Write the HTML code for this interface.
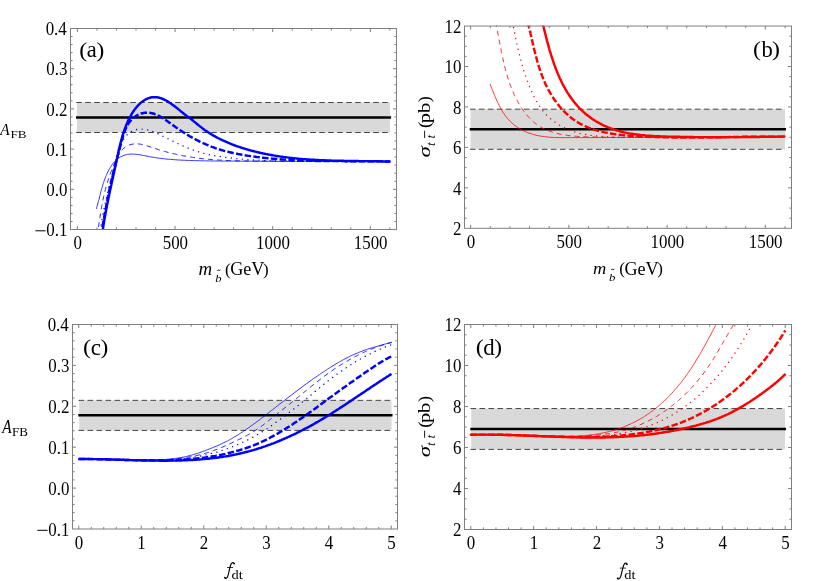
<!DOCTYPE html>
<html><head><meta charset="utf-8"><title>fig</title>
<style>
html,body{margin:0;padding:0;background:#fff;}
svg{display:block;will-change:transform;}
text{font-family:"Liberation Serif",serif;fill:#000;}
.tk{font-size:19.0px;}
.lb{font-size:17px;}
.pl{font-size:20.5px;}
.it{font-style:italic;}
</style></head><body>
<svg width="817" height="581" viewBox="0 0 817 581">
<rect width="817" height="581" fill="#fff"/>
<clipPath id="cpa"><rect x="70.0" y="28.0" width="327.0" height="202.0"/></clipPath>
<rect x="76.90" y="102.50" width="313.18" height="30.00" fill="#d9d9d9"/>
<line x1="76.20" x2="390.08" y1="132.50" y2="132.50" stroke="#454545" stroke-width="1" stroke-dasharray="5.6 3.4"/>
<line x1="76.20" x2="390.08" y1="102.50" y2="102.50" stroke="#454545" stroke-width="1" stroke-dasharray="5.6 3.4"/>
<line x1="76.00" x2="391.08" y1="117.50" y2="117.50" stroke="#000" stroke-width="2.5"/>
<g clip-path="url(#cpa)">
<path d="M96.3 208.9L96.7 207.7L97.0 206.5L97.4 205.2L97.7 204.0L98.0 202.8L98.3 201.6L98.7 200.4L99.0 199.2L99.3 198.0L99.6 196.8L99.9 195.6L100.2 194.4L100.5 193.2L100.8 192.0L101.1 190.8L101.5 189.6L101.8 188.4L102.1 187.2L102.5 186.1L102.9 184.9L103.2 183.7L103.6 182.5L104.0 181.3L104.4 180.2L104.9 179.0L105.3 177.8L105.8 176.6L106.3 175.5L106.8 174.3L107.3 173.1L107.8 172.0L108.4 170.8L109.0 169.7L109.6 168.6L110.3 167.5L111.0 166.4L111.7 165.3L112.4 164.3L113.2 163.3L114.0 162.3L114.9 161.4L115.8 160.5L116.7 159.7L117.6 158.9L118.6 158.1L119.6 157.4L120.7 156.8L121.8 156.3L122.9 155.8L124.0 155.3L125.1 155.0L126.3 154.7L127.5 154.4L128.6 154.3L129.8 154.1L131.0 154.1L132.2 154.1L133.4 154.1L134.6 154.2L135.9 154.3L137.1 154.4L138.3 154.6L139.6 154.7L140.8 155.0L142.0 155.2L143.3 155.4L144.5 155.7L145.8 155.9L147.0 156.2L148.3 156.4L149.5 156.7L150.8 156.9L152.0 157.1L153.3 157.3L154.5 157.5L155.8 157.7L157.0 157.9L158.3 158.1L159.5 158.2L160.8 158.4L162.0 158.6L163.3 158.7L164.5 158.8L165.8 159.0L167.0 159.1L168.3 159.2L169.5 159.3L170.8 159.4L172.0 159.5L173.3 159.6L174.5 159.7L175.8 159.8L177.0 159.9L178.3 160.0L179.5 160.0L180.8 160.1L182.0 160.2L183.3 160.2L184.5 160.3L185.8 160.3L187.0 160.4L188.2 160.4L189.5 160.5L190.7 160.5L192.0 160.5L193.2 160.6L194.5 160.6L195.7 160.7L197.0 160.7L198.2 160.7L199.5 160.7L200.7 160.8L202.0 160.8L203.2 160.8L204.5 160.8L205.7 160.9L207.0 160.9L208.2 160.9L209.5 160.9L210.7 160.9L212.0 161.0L213.2 161.0L214.5 161.0L215.7 161.0L216.9 161.0L218.2 161.0L219.4 161.0L220.7 161.0L221.9 161.1L223.2 161.1L224.4 161.1L225.7 161.1L226.9 161.1L228.2 161.1L229.4 161.1L230.7 161.1L231.9 161.1L233.2 161.1L234.4 161.1L235.7 161.2L236.9 161.2L238.1 161.2L239.4 161.2L240.6 161.2L241.9 161.2L243.1 161.2L244.4 161.2L245.6 161.2L246.9 161.2L248.1 161.2L249.4 161.2L250.6 161.2L251.9 161.2L253.1 161.3L254.4 161.3L255.6 161.3L256.8 161.3L258.1 161.3L259.3 161.3L260.6 161.3L261.8 161.3L263.1 161.3L264.3 161.3L265.6 161.3L266.8 161.3L268.1 161.3L269.3 161.3L270.6 161.3L271.8 161.3L273.1 161.3L274.3 161.3L275.6 161.4L276.8 161.4L278.0 161.4L279.3 161.4L280.5 161.4L281.8 161.4L283.0 161.4L284.3 161.4L285.5 161.4L286.8 161.4L288.0 161.4L289.3 161.4L290.5 161.4L291.8 161.4L293.0 161.4L294.3 161.4L295.5 161.4L296.8 161.4L298.0 161.4L299.2 161.4L300.5 161.4L301.7 161.4L303.0 161.4L304.2 161.4L305.5 161.4L306.7 161.4L308.0 161.4L309.2 161.4L310.5 161.4L311.7 161.4L313.0 161.5L314.2 161.5L315.5 161.5L316.7 161.5L318.0 161.5L319.2 161.5L320.5 161.5L321.7 161.5L323.0 161.5L324.2 161.5L325.4 161.5L326.7 161.5L327.9 161.5L329.2 161.5L330.4 161.5L331.7 161.5L332.9 161.5L334.2 161.5L335.4 161.5L336.7 161.5L337.9 161.5L339.2 161.5L340.4 161.5L341.7 161.5L342.9 161.5L344.2 161.5L345.4 161.5L346.7 161.5L347.9 161.5L349.2 161.5L350.4 161.5L351.7 161.5L352.9 161.5L354.2 161.5L355.4 161.5L356.7 161.5L357.9 161.5L359.2 161.5L360.4 161.5L361.7 161.5L362.9 161.5L364.2 161.5L365.4 161.5L366.7 161.5L367.9 161.5L369.2 161.5L370.4 161.5L371.7 161.5L372.9 161.5L374.2 161.5L375.4 161.5L376.7 161.5L377.9 161.5L379.2 161.5L380.4 161.5L381.7 161.5L382.9 161.5L384.2 161.5L385.4 161.5L386.7 161.5L387.9 161.5L389.2 161.5L390.4 161.5" fill="none" stroke="#0000ff" stroke-width="0.8" stroke-linejoin="round"/>
<path d="M97.0 236.0L97.2 234.8L97.4 233.5L97.6 232.3L97.8 231.0L98.0 229.8L98.2 228.5L98.4 227.3L98.6 226.1L98.8 224.8L99.0 223.6L99.1 222.4L99.3 221.1L99.5 219.9L99.7 218.7L99.9 217.5L100.1 216.2L100.3 215.0L100.5 213.8L100.7 212.6L100.9 211.4L101.1 210.1L101.3 208.9L101.5 207.7L101.7 206.5L101.9 205.3L102.1 204.1L102.4 202.9L102.6 201.7L102.9 200.4L103.1 199.2L103.4 198.0L103.6 196.8L103.9 195.6L104.2 194.4L104.5 193.2L104.8 192.0L105.1 190.8L105.4 189.6L105.7 188.3L106.0 187.1L106.4 185.9L106.7 184.7L107.1 183.5L107.4 182.3L107.8 181.1L108.2 179.9L108.6 178.7L109.0 177.5L109.4 176.3L109.8 175.1L110.2 173.9L110.7 172.7L111.1 171.6L111.5 170.4L112.0 169.2L112.5 168.0L112.9 166.9L113.4 165.7L113.9 164.5L114.4 163.4L114.9 162.2L115.4 161.1L116.0 159.9L116.5 158.8L117.1 157.7L117.6 156.5L118.2 155.5L118.8 154.4L119.5 153.3L120.2 152.3L120.9 151.3L121.7 150.4L122.5 149.5L123.3 148.6L124.3 147.9L125.3 147.1L126.3 146.5L127.4 145.9L128.6 145.3L129.7 144.9L130.9 144.5L132.1 144.2L133.3 144.0L134.4 143.9L135.6 143.8L136.8 143.8L138.0 143.9L139.2 144.0L140.4 144.2L141.6 144.4L142.8 144.7L144.0 145.0L145.2 145.3L146.4 145.6L147.6 146.0L148.8 146.4L150.0 146.8L151.2 147.2L152.4 147.6L153.6 148.0L154.8 148.4L156.0 148.8L157.2 149.2L158.4 149.6L159.6 150.0L160.8 150.3L162.0 150.7L163.2 151.1L164.5 151.4L165.7 151.7L166.9 152.1L168.1 152.4L169.3 152.7L170.5 153.0L171.7 153.3L173.0 153.6L174.2 153.9L175.4 154.1L176.6 154.4L177.8 154.7L179.0 154.9L180.3 155.2L181.5 155.4L182.7 155.7L183.9 155.9L185.2 156.1L186.4 156.3L187.6 156.5L188.8 156.8L190.1 157.0L191.3 157.1L192.5 157.3L193.7 157.5L195.0 157.7L196.2 157.9L197.4 158.0L198.7 158.2L199.9 158.3L201.1 158.5L202.3 158.6L203.6 158.8L204.8 158.9L206.0 159.0L207.3 159.1L208.5 159.3L209.7 159.4L211.0 159.5L212.2 159.6L213.4 159.7L214.7 159.8L215.9 159.9L217.2 159.9L218.4 160.0L219.6 160.1L220.9 160.2L222.1 160.2L223.3 160.3L224.6 160.3L225.8 160.4L227.1 160.5L228.3 160.5L229.5 160.6L230.8 160.6L232.0 160.6L233.3 160.7L234.5 160.7L235.8 160.7L237.0 160.8L238.2 160.8L239.5 160.8L240.7 160.8L242.0 160.9L243.2 160.9L244.5 160.9L245.7 160.9L247.0 160.9L248.2 160.9L249.4 160.9L250.7 160.9L251.9 160.9L253.2 161.0L254.4 161.0L255.7 161.0L256.9 161.0L258.2 161.0L259.4 161.0L260.7 161.0L261.9 161.0L263.2 161.0L264.4 161.0L265.7 161.0L266.9 161.0L268.2 161.0L269.4 161.0L270.7 161.0L271.9 161.0L273.2 161.0L274.4 161.0L275.7 161.0L276.9 161.0L278.2 161.0L279.4 161.0L280.7 161.0L281.9 161.0L283.2 161.0L284.4 161.1L285.7 161.1L286.9 161.1L288.2 161.1L289.4 161.1L290.7 161.1L291.9 161.1L293.2 161.1L294.4 161.1L295.7 161.1L296.9 161.1L298.2 161.2L299.4 161.2L300.7 161.2L301.9 161.2L303.2 161.2L304.4 161.2L305.7 161.2L306.9 161.2L308.2 161.3L309.4 161.3L310.7 161.3L311.9 161.3L313.2 161.3L314.4 161.3L315.7 161.3L316.9 161.3L318.2 161.4L319.4 161.4L320.7 161.4L321.9 161.4L323.2 161.4L324.4 161.4L325.7 161.4L326.9 161.4L328.2 161.5L329.4 161.5L330.7 161.5L331.9 161.5L333.2 161.5L334.4 161.5L335.7 161.5L336.9 161.5L338.2 161.5L339.4 161.5L340.7 161.6L341.9 161.6L343.2 161.6L344.4 161.6L345.7 161.6L346.9 161.6L348.2 161.6L349.4 161.6L350.7 161.6L351.9 161.6L353.1 161.6L354.4 161.6L355.6 161.6L356.9 161.6L358.1 161.6L359.4 161.6L360.6 161.6L361.9 161.6L363.1 161.6L364.3 161.6L365.6 161.6L366.8 161.6L368.1 161.6L369.3 161.6L370.5 161.6L371.8 161.6L373.0 161.6L374.3 161.6L375.5 161.6L376.7 161.6L378.0 161.6L379.2 161.6L380.5 161.6L381.7 161.6L382.9 161.6L384.2 161.5L385.4 161.5L386.6 161.5L387.9 161.5L389.1 161.5L390.3 161.5" fill="none" stroke="#0000ff" stroke-width="0.85" stroke-dasharray="5.0 4.0" stroke-linejoin="round"/>
<path d="M99.7 236.0L99.8 234.7L100.0 233.5L100.1 232.3L100.3 231.1L100.4 229.8L100.6 228.6L100.8 227.4L101.0 226.1L101.1 224.9L101.3 223.7L101.5 222.4L101.7 221.2L101.9 220.0L102.1 218.7L102.4 217.5L102.6 216.3L102.8 215.1L103.0 213.8L103.3 212.6L103.5 211.4L103.8 210.1L104.0 208.9L104.3 207.7L104.5 206.4L104.8 205.2L105.1 204.0L105.3 202.7L105.6 201.5L105.9 200.3L106.1 199.1L106.4 197.8L106.7 196.6L107.0 195.4L107.3 194.2L107.6 193.0L107.9 191.7L108.2 190.5L108.4 189.3L108.7 188.1L109.0 186.9L109.3 185.7L109.6 184.4L110.0 183.2L110.3 182.0L110.6 180.8L110.9 179.6L111.2 178.4L111.5 177.2L111.8 176.0L112.1 174.8L112.4 173.6L112.7 172.4L113.0 171.2L113.3 170.0L113.7 168.9L114.0 167.7L114.3 166.5L114.6 165.3L114.9 164.1L115.3 162.9L115.6 161.7L115.9 160.5L116.3 159.3L116.6 158.2L117.0 157.0L117.3 155.8L117.7 154.6L118.1 153.4L118.5 152.1L118.9 150.9L119.3 149.7L119.7 148.5L120.2 147.3L120.6 146.0L121.1 144.8L121.5 143.6L122.1 142.4L122.6 141.2L123.2 140.1L123.8 138.9L124.5 137.9L125.2 136.9L125.9 135.9L126.8 135.0L127.6 134.2L128.6 133.4L129.5 132.7L130.5 132.0L131.5 131.4L132.6 130.9L133.7 130.4L134.8 130.0L136.0 129.7L137.1 129.4L138.3 129.2L139.5 129.1L140.7 129.1L142.0 129.1L143.2 129.1L144.4 129.3L145.7 129.5L146.9 129.7L148.1 130.0L149.4 130.4L150.6 130.7L151.8 131.2L153.0 131.6L154.2 132.1L155.4 132.6L156.5 133.1L157.7 133.7L158.8 134.2L160.0 134.8L161.1 135.3L162.2 135.9L163.4 136.5L164.5 137.0L165.6 137.6L166.7 138.2L167.9 138.7L169.0 139.3L170.1 139.9L171.2 140.4L172.4 141.0L173.5 141.5L174.6 142.1L175.8 142.6L176.9 143.2L178.0 143.7L179.1 144.2L180.3 144.7L181.4 145.2L182.6 145.8L183.7 146.3L184.8 146.7L186.0 147.2L187.1 147.7L188.3 148.2L189.4 148.6L190.6 149.1L191.7 149.5L192.9 149.9L194.1 150.4L195.2 150.8L196.4 151.2L197.6 151.5L198.8 151.9L200.0 152.3L201.1 152.6L202.3 152.9L203.5 153.3L204.7 153.6L206.0 153.9L207.2 154.2L208.4 154.4L209.6 154.7L210.8 154.9L212.0 155.2L213.3 155.4L214.5 155.6L215.7 155.9L217.0 156.1L218.2 156.3L219.4 156.5L220.7 156.6L221.9 156.8L223.2 157.0L224.4 157.2L225.7 157.3L226.9 157.5L228.1 157.6L229.4 157.8L230.6 157.9L231.9 158.1L233.1 158.2L234.4 158.3L235.6 158.5L236.9 158.6L238.1 158.7L239.4 158.8L240.6 159.0L241.8 159.1L243.1 159.2L244.3 159.3L245.6 159.4L246.8 159.5L248.1 159.6L249.3 159.7L250.6 159.8L251.8 159.8L253.1 159.9L254.3 160.0L255.6 160.1L256.8 160.2L258.0 160.2L259.3 160.3L260.5 160.4L261.8 160.4L263.0 160.5L264.3 160.5L265.5 160.6L266.8 160.7L268.0 160.7L269.3 160.8L270.5 160.8L271.8 160.8L273.0 160.9L274.3 160.9L275.5 161.0L276.8 161.0L278.0 161.0L279.3 161.1L280.5 161.1L281.7 161.1L283.0 161.1L284.2 161.2L285.5 161.2L286.7 161.2L288.0 161.2L289.2 161.2L290.5 161.3L291.7 161.3L293.0 161.3L294.2 161.3L295.5 161.3L296.7 161.3L298.0 161.3L299.2 161.3L300.5 161.3L301.7 161.3L303.0 161.3L304.2 161.3L305.5 161.3L306.7 161.3L308.0 161.3L309.2 161.3L310.5 161.3L311.7 161.3L313.0 161.3L314.2 161.3L315.4 161.3L316.7 161.3L317.9 161.3L319.2 161.3L320.4 161.3L321.7 161.2L322.9 161.2L324.2 161.2L325.4 161.2L326.7 161.2L327.9 161.2L329.2 161.2L330.4 161.2L331.7 161.2L332.9 161.2L334.2 161.1L335.4 161.1L336.7 161.1L337.9 161.1L339.2 161.1L340.4 161.1L341.7 161.1L342.9 161.1L344.2 161.1L345.4 161.1L346.7 161.1L347.9 161.0L349.2 161.0L350.4 161.0L351.7 161.0L352.9 161.0L354.2 161.0L355.4 161.0L356.7 161.0L357.9 161.0L359.2 161.0L360.4 161.0L361.7 161.0L362.9 161.0L364.2 161.0L365.4 161.0L366.7 161.1L367.9 161.1L369.2 161.1L370.4 161.1L371.7 161.1L372.9 161.1L374.2 161.1L375.4 161.2L376.7 161.2L377.9 161.2L379.2 161.2L380.4 161.3L381.7 161.3L382.9 161.3L384.2 161.3L385.4 161.4L386.7 161.4L387.9 161.5L389.2 161.5L390.4 161.5" fill="none" stroke="#0000ff" stroke-width="1.4" stroke-dasharray="0.01 5.55" stroke-linecap="round" stroke-linejoin="round"/>
<path d="M100.9 235.9L101.1 234.7L101.3 233.5L101.5 232.3L101.7 231.1L102.0 229.9L102.2 228.7L102.4 227.4L102.6 226.2L102.8 225.0L103.0 223.7L103.2 222.5L103.4 221.3L103.6 220.1L103.9 218.8L104.1 217.6L104.3 216.4L104.5 215.1L104.7 213.9L105.0 212.6L105.2 211.4L105.4 210.2L105.6 208.9L105.9 207.7L106.1 206.4L106.3 205.2L106.6 204.0L106.8 202.7L107.0 201.5L107.3 200.2L107.5 199.0L107.7 197.8L108.0 196.5L108.2 195.3L108.5 194.1L108.7 192.8L109.0 191.6L109.3 190.4L109.5 189.2L109.8 187.9L110.0 186.7L110.3 185.5L110.6 184.3L110.8 183.1L111.1 181.8L111.4 180.6L111.7 179.4L112.0 178.2L112.3 177.0L112.5 175.8L112.8 174.6L113.1 173.4L113.4 172.2L113.7 171.0L114.0 169.8L114.4 168.7L114.7 167.5L115.0 166.3L115.3 165.1L115.6 163.9L115.9 162.7L116.2 161.5L116.6 160.3L116.9 159.1L117.2 157.9L117.5 156.7L117.9 155.5L118.2 154.3L118.5 153.1L118.8 151.9L119.2 150.7L119.5 149.5L119.8 148.2L120.1 147.0L120.4 145.8L120.8 144.5L121.1 143.3L121.4 142.0L121.7 140.8L122.1 139.5L122.4 138.3L122.8 137.0L123.2 135.8L123.5 134.6L123.9 133.3L124.4 132.1L124.8 130.9L125.3 129.8L125.8 128.6L126.3 127.5L126.8 126.4L127.4 125.3L128.1 124.2L128.7 123.2L129.5 122.1L130.2 121.2L131.0 120.2L131.9 119.3L132.8 118.4L133.8 117.6L134.7 116.9L135.8 116.1L136.8 115.5L137.9 114.9L139.0 114.4L140.1 113.9L141.2 113.5L142.4 113.2L143.6 113.0L144.7 112.8L145.9 112.7L147.1 112.7L148.3 112.7L149.5 112.8L150.7 113.0L151.9 113.2L153.1 113.5L154.3 113.8L155.4 114.3L156.6 114.7L157.7 115.2L158.8 115.8L159.9 116.4L161.0 117.0L162.1 117.7L163.2 118.4L164.3 119.1L165.3 119.8L166.4 120.6L167.5 121.3L168.5 122.1L169.6 122.8L170.6 123.6L171.6 124.3L172.7 125.0L173.7 125.8L174.8 126.5L175.8 127.2L176.8 127.9L177.8 128.6L178.9 129.3L179.9 130.0L180.9 130.7L182.0 131.4L183.0 132.1L184.1 132.7L185.1 133.4L186.1 134.1L187.2 134.7L188.3 135.4L189.3 136.0L190.4 136.6L191.5 137.2L192.6 137.8L193.7 138.4L194.8 139.0L195.9 139.6L197.0 140.2L198.1 140.7L199.2 141.3L200.3 141.9L201.4 142.4L202.6 142.9L203.7 143.4L204.9 143.9L206.0 144.4L207.2 144.9L208.3 145.4L209.5 145.9L210.6 146.3L211.8 146.8L213.0 147.2L214.2 147.6L215.3 148.1L216.5 148.5L217.7 148.9L218.9 149.2L220.1 149.6L221.3 150.0L222.5 150.3L223.7 150.7L224.9 151.0L226.1 151.3L227.3 151.6L228.5 151.9L229.7 152.2L231.0 152.5L232.2 152.8L233.4 153.1L234.6 153.3L235.8 153.6L237.1 153.8L238.3 154.1L239.5 154.3L240.8 154.5L242.0 154.7L243.2 154.9L244.5 155.2L245.7 155.4L246.9 155.6L248.2 155.8L249.4 155.9L250.6 156.1L251.9 156.3L253.1 156.5L254.4 156.6L255.6 156.8L256.8 157.0L258.1 157.1L259.3 157.3L260.5 157.4L261.8 157.6L263.0 157.7L264.3 157.9L265.5 158.0L266.8 158.1L268.0 158.3L269.2 158.4L270.5 158.5L271.7 158.6L273.0 158.7L274.2 158.8L275.5 158.9L276.7 159.0L277.9 159.1L279.2 159.2L280.4 159.3L281.7 159.4L282.9 159.5L284.2 159.6L285.4 159.7L286.7 159.7L287.9 159.8L289.2 159.9L290.4 160.0L291.7 160.0L292.9 160.1L294.2 160.2L295.4 160.2L296.6 160.3L297.9 160.3L299.1 160.4L300.4 160.4L301.6 160.5L302.9 160.5L304.1 160.6L305.4 160.6L306.6 160.6L307.9 160.7L309.1 160.7L310.4 160.8L311.6 160.8L312.9 160.8L314.1 160.8L315.4 160.9L316.6 160.9L317.9 160.9L319.1 160.9L320.4 161.0L321.6 161.0L322.9 161.0L324.1 161.0L325.4 161.0L326.6 161.0L327.9 161.1L329.2 161.1L330.4 161.1L331.7 161.1L332.9 161.1L334.2 161.1L335.4 161.1L336.7 161.1L337.9 161.1L339.2 161.1L340.4 161.1L341.7 161.1L342.9 161.1L344.2 161.1L345.4 161.2L346.7 161.2L347.9 161.2L349.2 161.2L350.4 161.2L351.7 161.2L352.9 161.2L354.2 161.2L355.4 161.2L356.7 161.2L357.9 161.2L359.2 161.2L360.4 161.2L361.7 161.2L362.9 161.2L364.2 161.2L365.4 161.2L366.7 161.2L367.9 161.2L369.2 161.2L370.4 161.2L371.7 161.2L372.9 161.3L374.2 161.3L375.4 161.3L376.7 161.3L377.9 161.3L379.2 161.3L380.4 161.3L381.7 161.3L382.9 161.4L384.2 161.4L385.4 161.4L386.7 161.4L387.9 161.5L389.2 161.5L390.4 161.5" fill="none" stroke="#0000ff" stroke-width="2.45" stroke-dasharray="6.5 2.3" stroke-linejoin="round"/>
<path d="M102.0 236.0L102.1 234.8L102.3 233.5L102.5 232.3L102.6 231.1L102.8 229.8L103.0 228.6L103.2 227.4L103.3 226.2L103.5 224.9L103.7 223.7L103.9 222.5L104.1 221.2L104.3 220.0L104.5 218.8L104.8 217.6L105.0 216.3L105.2 215.1L105.4 213.9L105.6 212.6L105.9 211.4L106.1 210.2L106.3 209.0L106.6 207.7L106.8 206.5L107.0 205.3L107.3 204.1L107.5 202.8L107.8 201.6L108.0 200.4L108.3 199.2L108.5 197.9L108.8 196.7L109.0 195.5L109.3 194.2L109.5 193.0L109.8 191.8L110.0 190.6L110.3 189.4L110.6 188.1L110.8 186.9L111.1 185.7L111.4 184.5L111.6 183.2L111.9 182.0L112.2 180.8L112.4 179.6L112.7 178.4L113.0 177.1L113.2 175.9L113.5 174.7L113.8 173.5L114.0 172.3L114.3 171.0L114.6 169.8L114.8 168.6L115.1 167.4L115.4 166.2L115.6 164.9L115.9 163.7L116.2 162.5L116.4 161.3L116.7 160.1L116.9 158.9L117.2 157.7L117.5 156.4L117.7 155.2L118.0 154.0L118.2 152.8L118.5 151.6L118.8 150.4L119.0 149.2L119.3 148.0L119.6 146.8L119.9 145.6L120.2 144.4L120.5 143.2L120.8 142.0L121.1 140.8L121.4 139.6L121.8 138.4L122.1 137.2L122.4 136.0L122.8 134.8L123.2 133.6L123.6 132.5L124.0 131.3L124.4 130.1L124.8 128.9L125.2 127.8L125.7 126.6L126.1 125.4L126.6 124.3L127.1 123.1L127.6 122.0L128.1 120.8L128.7 119.7L129.3 118.5L129.8 117.4L130.5 116.3L131.1 115.1L131.7 114.0L132.4 112.9L133.1 111.8L133.8 110.8L134.5 109.7L135.3 108.7L136.1 107.7L136.9 106.7L137.7 105.8L138.6 104.9L139.5 104.0L140.4 103.2L141.3 102.4L142.3 101.6L143.3 100.9L144.3 100.2L145.3 99.6L146.4 99.1L147.5 98.6L148.6 98.2L149.7 97.8L150.9 97.5L152.1 97.3L153.3 97.2L154.5 97.1L155.7 97.2L156.9 97.3L158.1 97.5L159.3 97.8L160.5 98.1L161.7 98.5L162.9 99.0L164.1 99.5L165.2 100.1L166.4 100.7L167.5 101.4L168.6 102.1L169.7 102.8L170.8 103.5L171.8 104.2L172.9 105.0L173.9 105.7L174.9 106.5L175.9 107.3L176.9 108.1L177.9 108.8L178.8 109.6L179.8 110.4L180.7 111.2L181.7 111.9L182.6 112.7L183.6 113.5L184.5 114.2L185.5 114.9L186.4 115.7L187.4 116.4L188.4 117.1L189.3 117.8L190.3 118.5L191.3 119.3L192.2 120.0L193.2 120.8L194.1 121.6L195.1 122.4L196.1 123.2L197.1 124.0L198.0 124.8L199.0 125.6L200.0 126.4L201.0 127.1L202.0 127.9L203.0 128.7L204.0 129.4L205.0 130.2L206.1 130.9L207.1 131.6L208.1 132.3L209.2 133.0L210.3 133.6L211.3 134.3L212.4 134.9L213.5 135.6L214.6 136.2L215.7 136.8L216.7 137.4L217.9 138.0L219.0 138.5L220.1 139.1L221.2 139.6L222.3 140.2L223.4 140.7L224.6 141.2L225.7 141.7L226.9 142.2L228.0 142.7L229.2 143.2L230.3 143.7L231.5 144.1L232.6 144.6L233.8 145.0L235.0 145.5L236.1 145.9L237.3 146.3L238.5 146.7L239.7 147.1L240.9 147.5L242.0 147.9L243.2 148.3L244.4 148.6L245.6 149.0L246.8 149.3L248.0 149.7L249.2 150.0L250.4 150.4L251.6 150.7L252.8 151.0L254.0 151.3L255.2 151.6L256.4 151.9L257.6 152.2L258.8 152.5L260.0 152.8L261.2 153.1L262.4 153.3L263.6 153.6L264.8 153.8L266.1 154.1L267.3 154.3L268.5 154.6L269.7 154.8L270.9 155.0L272.2 155.2L273.4 155.4L274.6 155.6L275.8 155.9L277.1 156.0L278.3 156.2L279.5 156.4L280.8 156.6L282.0 156.8L283.2 157.0L284.5 157.1L285.7 157.3L286.9 157.4L288.2 157.6L289.4 157.7L290.6 157.9L291.9 158.0L293.1 158.2L294.4 158.3L295.6 158.4L296.8 158.5L298.1 158.6L299.3 158.8L300.6 158.9L301.8 159.0L303.1 159.1L304.3 159.2L305.6 159.3L306.8 159.4L308.1 159.4L309.3 159.5L310.6 159.6L311.8 159.7L313.1 159.8L314.3 159.8L315.6 159.9L316.8 160.0L318.1 160.0L319.3 160.1L320.6 160.2L321.8 160.2L323.1 160.3L324.3 160.3L325.6 160.4L326.8 160.4L328.1 160.5L329.3 160.5L330.6 160.5L331.8 160.6L333.1 160.6L334.4 160.6L335.6 160.7L336.9 160.7L338.1 160.7L339.4 160.8L340.6 160.8L341.9 160.8L343.1 160.8L344.4 160.9L345.6 160.9L346.9 160.9L348.1 160.9L349.4 160.9L350.6 161.0L351.9 161.0L353.1 161.0L354.4 161.0L355.6 161.0L356.9 161.0L358.1 161.0L359.4 161.1L360.6 161.1L361.9 161.1L363.1 161.1L364.4 161.1L365.6 161.1L366.9 161.1L368.1 161.2L369.3 161.2L370.6 161.2L371.8 161.2L373.1 161.2L374.3 161.2L375.5 161.3L376.8 161.3L378.0 161.3L379.3 161.3L380.5 161.3L381.7 161.4L383.0 161.4L384.2 161.4L385.4 161.5L386.7 161.5L387.9 161.5L389.1 161.5L390.3 161.6" fill="none" stroke="#0000ff" stroke-width="2.45" stroke-linejoin="round"/>
</g>
<path d="M77.40 229.50v-3.5M77.40 28.50v3.5M96.93 229.50v-2.1M96.93 28.50v2.1M116.46 229.50v-2.1M116.46 28.50v2.1M135.99 229.50v-2.1M135.99 28.50v2.1M155.52 229.50v-2.1M155.52 28.50v2.1M175.05 229.50v-3.5M175.05 28.50v3.5M194.58 229.50v-2.1M194.58 28.50v2.1M214.11 229.50v-2.1M214.11 28.50v2.1M233.64 229.50v-2.1M233.64 28.50v2.1M253.17 229.50v-2.1M253.17 28.50v2.1M272.70 229.50v-3.5M272.70 28.50v3.5M292.23 229.50v-2.1M292.23 28.50v2.1M311.76 229.50v-2.1M311.76 28.50v2.1M331.29 229.50v-2.1M331.29 28.50v2.1M350.82 229.50v-2.1M350.82 28.50v2.1M370.35 229.50v-3.5M370.35 28.50v3.5M389.88 229.50v-2.1M389.88 28.50v2.1M70.50 221.46h2.1M396.50 221.46h-2.1M70.50 213.42h2.1M396.50 213.42h-2.1M70.50 205.38h2.1M396.50 205.38h-2.1M70.50 197.34h2.1M396.50 197.34h-2.1M70.50 189.30h3.5M396.50 189.30h-3.5M70.50 181.26h2.1M396.50 181.26h-2.1M70.50 173.22h2.1M396.50 173.22h-2.1M70.50 165.18h2.1M396.50 165.18h-2.1M70.50 157.14h2.1M396.50 157.14h-2.1M70.50 149.10h3.5M396.50 149.10h-3.5M70.50 141.06h2.1M396.50 141.06h-2.1M70.50 133.02h2.1M396.50 133.02h-2.1M70.50 124.98h2.1M396.50 124.98h-2.1M70.50 116.94h2.1M396.50 116.94h-2.1M70.50 108.90h3.5M396.50 108.90h-3.5M70.50 100.86h2.1M396.50 100.86h-2.1M70.50 92.82h2.1M396.50 92.82h-2.1M70.50 84.78h2.1M396.50 84.78h-2.1M70.50 76.74h2.1M396.50 76.74h-2.1M70.50 68.70h3.5M396.50 68.70h-3.5M70.50 60.66h2.1M396.50 60.66h-2.1M70.50 52.62h2.1M396.50 52.62h-2.1M70.50 44.58h2.1M396.50 44.58h-2.1M70.50 36.54h2.1M396.50 36.54h-2.1" stroke="#7f7f7f" stroke-width="1" fill="none"/>
<rect x="70.5" y="28.5" width="326.0" height="201.0" fill="none" stroke="#7f7f7f" stroke-width="1"/>
<text transform="translate(77.70 249.20) scale(0.89 1)" text-anchor="middle" class="tk">0</text>
<text transform="translate(175.35 249.20) scale(0.89 1)" text-anchor="middle" class="tk">500</text>
<text transform="translate(273.00 249.20) scale(0.89 1)" text-anchor="middle" class="tk">1000</text>
<text transform="translate(370.65 249.20) scale(0.89 1)" text-anchor="middle" class="tk">1500</text>
<line x1="35.40" x2="45.60" y1="230.80" y2="230.80" stroke="#000" stroke-width="1"/>
<text transform="translate(67.50 236.20) scale(0.89 1)" text-anchor="end" class="tk">0.1</text>
<text transform="translate(67.50 196.00) scale(0.89 1)" text-anchor="end" class="tk">0.0</text>
<text transform="translate(67.50 155.80) scale(0.89 1)" text-anchor="end" class="tk">0.1</text>
<text transform="translate(67.50 115.60) scale(0.89 1)" text-anchor="end" class="tk">0.2</text>
<text transform="translate(67.50 75.40) scale(0.89 1)" text-anchor="end" class="tk">0.3</text>
<text transform="translate(66.80 35.20) scale(0.89 1)" text-anchor="end" class="tk">0.4</text>
<clipPath id="cpb"><rect x="464.0" y="25.55" width="328.0" height="203.25"/></clipPath>
<rect x="470.60" y="109.20" width="314.40" height="40.10" fill="#d9d9d9"/>
<line x1="469.90" x2="785.00" y1="149.30" y2="149.30" stroke="#454545" stroke-width="1" stroke-dasharray="5.6 3.4"/>
<line x1="469.90" x2="785.00" y1="109.20" y2="109.20" stroke="#454545" stroke-width="1" stroke-dasharray="5.6 3.4"/>
<line x1="469.70" x2="786.00" y1="129.15" y2="129.15" stroke="#000" stroke-width="2.5"/>
<g clip-path="url(#cpb)">
<path d="M490.1 83.9L490.5 85.0L490.9 86.2L491.3 87.3L491.8 88.5L492.2 89.6L492.7 90.8L493.1 91.9L493.6 93.1L494.1 94.3L494.6 95.4L495.1 96.6L495.6 97.7L496.1 98.9L496.6 100.1L497.1 101.2L497.7 102.3L498.2 103.5L498.8 104.6L499.3 105.7L499.9 106.9L500.5 108.0L501.1 109.1L501.7 110.1L502.3 111.2L503.0 112.3L503.7 113.3L504.4 114.3L505.1 115.4L505.8 116.3L506.6 117.3L507.4 118.3L508.2 119.2L509.0 120.1L509.9 121.0L510.8 121.9L511.7 122.8L512.6 123.6L513.6 124.4L514.5 125.2L515.5 125.9L516.6 126.7L517.6 127.4L518.7 128.1L519.7 128.7L520.8 129.4L521.9 130.0L523.0 130.5L524.2 131.1L525.3 131.6L526.5 132.1L527.6 132.6L528.8 133.0L530.0 133.4L531.2 133.8L532.4 134.2L533.6 134.6L534.8 134.9L536.0 135.2L537.2 135.5L538.5 135.7L539.7 135.9L540.9 136.2L542.2 136.4L543.4 136.5L544.6 136.7L545.9 136.8L547.1 137.0L548.3 137.1L549.6 137.2L550.8 137.3L552.0 137.3L553.3 137.4L554.5 137.5L555.7 137.5L557.0 137.5L558.2 137.6L559.4 137.6L560.7 137.6L561.9 137.6L563.1 137.6L564.4 137.6L565.6 137.6L566.9 137.6L568.1 137.6L569.3 137.6L570.6 137.6L571.8 137.6L573.1 137.6L574.3 137.6L575.5 137.6L576.8 137.6L578.0 137.6L579.3 137.6L580.5 137.6L581.7 137.6L583.0 137.6L584.2 137.6L585.5 137.6L586.7 137.6L588.0 137.6L589.2 137.6L590.4 137.6L591.7 137.6L592.9 137.6L594.2 137.6L595.4 137.6L596.7 137.6L597.9 137.6L599.2 137.6L600.4 137.6L601.6 137.6L602.9 137.6L604.1 137.6L605.4 137.5L606.6 137.5L607.9 137.5L609.1 137.5L610.4 137.5L611.6 137.5L612.9 137.5L614.1 137.5L615.4 137.5L616.6 137.5L617.9 137.5L619.1 137.5L620.4 137.5L621.6 137.5L622.9 137.4L624.1 137.4L625.4 137.4L626.6 137.4L627.9 137.4L629.1 137.4L630.4 137.4L631.6 137.4L632.9 137.4L634.1 137.4L635.4 137.4L636.6 137.4L637.9 137.4L639.1 137.4L640.4 137.4L641.6 137.4L642.9 137.4L644.1 137.4L645.4 137.4L646.6 137.3L647.9 137.3L649.1 137.3L650.4 137.3L651.6 137.3L652.9 137.3L654.1 137.3L655.4 137.3L656.6 137.3L657.9 137.3L659.1 137.3L660.4 137.3L661.6 137.3L662.9 137.3L664.1 137.3L665.4 137.3L666.6 137.3L667.9 137.3L669.1 137.3L670.4 137.3L671.6 137.3L672.9 137.3L674.1 137.3L675.4 137.3L676.7 137.3L677.9 137.3L679.2 137.3L680.4 137.3L681.7 137.3L682.9 137.3L684.2 137.3L685.4 137.3L686.7 137.3L687.9 137.3L689.2 137.3L690.4 137.3L691.7 137.3L692.9 137.3L694.2 137.3L695.4 137.3L696.7 137.3L697.9 137.3L699.2 137.3L700.4 137.3L701.7 137.3L702.9 137.3L704.2 137.3L705.4 137.3L706.7 137.3L707.9 137.3L709.2 137.3L710.4 137.3L711.7 137.3L712.9 137.3L714.2 137.3L715.4 137.3L716.7 137.3L717.9 137.2L719.2 137.2L720.4 137.2L721.7 137.2L722.9 137.2L724.2 137.2L725.4 137.2L726.7 137.2L727.9 137.2L729.2 137.2L730.4 137.2L731.7 137.2L732.9 137.2L734.2 137.2L735.4 137.2L736.7 137.2L737.9 137.1L739.2 137.1L740.4 137.1L741.6 137.1L742.9 137.1L744.1 137.1L745.4 137.1L746.6 137.1L747.9 137.1L749.1 137.1L750.4 137.0L751.6 137.0L752.9 137.0L754.1 137.0L755.3 137.0L756.6 137.0L757.8 137.0L759.1 136.9L760.3 136.9L761.6 136.9L762.8 136.9L764.0 136.9L765.3 136.9L766.5 136.8L767.8 136.8L769.0 136.8L770.2 136.8L771.5 136.8L772.7 136.7L774.0 136.7L775.2 136.7L776.4 136.7L777.7 136.6L778.9 136.6L780.2 136.6L781.4 136.6L782.6 136.5L783.9 136.5L785.1 136.5" fill="none" stroke="#ff0000" stroke-width="0.8" stroke-linejoin="round"/>
<path d="M495.5 22.0L495.8 23.2L496.1 24.5L496.3 25.7L496.6 26.9L496.8 28.2L497.1 29.4L497.3 30.6L497.6 31.8L497.8 33.1L498.1 34.3L498.3 35.5L498.6 36.8L498.8 38.0L499.0 39.2L499.3 40.4L499.5 41.7L499.7 42.9L500.0 44.1L500.2 45.4L500.5 46.6L500.7 47.8L500.9 49.0L501.2 50.2L501.4 51.5L501.7 52.7L501.9 53.9L502.2 55.1L502.4 56.3L502.7 57.6L502.9 58.8L503.2 60.0L503.5 61.2L503.7 62.4L504.0 63.6L504.3 64.8L504.6 66.1L504.9 67.3L505.2 68.5L505.5 69.7L505.8 70.9L506.1 72.1L506.5 73.3L506.8 74.5L507.2 75.7L507.5 76.8L507.9 78.0L508.3 79.2L508.6 80.4L509.0 81.6L509.4 82.8L509.9 84.0L510.3 85.1L510.7 86.3L511.2 87.5L511.6 88.7L512.1 89.8L512.6 91.0L513.1 92.1L513.6 93.3L514.1 94.5L514.7 95.6L515.2 96.7L515.8 97.9L516.4 99.0L517.0 100.1L517.6 101.3L518.2 102.4L518.8 103.5L519.5 104.6L520.1 105.6L520.8 106.7L521.5 107.8L522.2 108.8L522.9 109.9L523.6 110.9L524.4 111.9L525.1 112.9L525.9 113.9L526.7 114.9L527.5 115.9L528.4 116.8L529.2 117.7L530.1 118.6L531.0 119.5L531.8 120.4L532.8 121.2L533.7 122.0L534.6 122.8L535.6 123.6L536.6 124.3L537.6 125.0L538.6 125.7L539.6 126.4L540.7 127.0L541.7 127.6L542.8 128.2L543.9 128.7L545.0 129.3L546.1 129.8L547.2 130.2L548.4 130.7L549.5 131.1L550.7 131.5L551.8 131.9L553.0 132.3L554.2 132.7L555.4 133.0L556.6 133.3L557.8 133.6L559.0 133.9L560.2 134.2L561.5 134.4L562.7 134.6L563.9 134.8L565.2 135.0L566.4 135.2L567.6 135.4L568.9 135.6L570.1 135.7L571.4 135.9L572.6 136.0L573.8 136.1L575.1 136.2L576.4 136.3L577.6 136.4L578.9 136.5L580.1 136.5L581.4 136.6L582.6 136.7L583.9 136.7L585.2 136.8L586.4 136.8L587.7 136.9L588.9 136.9L590.2 136.9L591.5 136.9L592.7 137.0L594.0 137.0L595.3 137.0L596.5 137.0L597.8 137.1L599.0 137.1L600.3 137.1L601.6 137.1L602.8 137.2L604.1 137.2L605.3 137.2L606.6 137.2L607.9 137.2L609.1 137.3L610.4 137.3L611.6 137.3L612.9 137.3L614.1 137.3L615.4 137.3L616.6 137.3L617.9 137.4L619.2 137.4L620.4 137.4L621.7 137.4L622.9 137.4L624.2 137.4L625.4 137.4L626.7 137.4L627.9 137.5L629.2 137.5L630.4 137.5L631.7 137.5L632.9 137.5L634.2 137.5L635.4 137.5L636.7 137.5L637.9 137.5L639.2 137.5L640.4 137.5L641.7 137.5L642.9 137.5L644.2 137.5L645.4 137.5L646.7 137.6L647.9 137.6L649.2 137.6L650.4 137.6L651.7 137.6L652.9 137.6L654.2 137.6L655.4 137.6L656.7 137.6L657.9 137.6L659.2 137.6L660.4 137.6L661.7 137.6L662.9 137.6L664.1 137.6L665.4 137.6L666.6 137.6L667.9 137.6L669.1 137.5L670.4 137.5L671.6 137.5L672.9 137.5L674.1 137.5L675.4 137.5L676.6 137.5L677.8 137.5L679.1 137.5L680.3 137.5L681.6 137.5L682.8 137.5L684.1 137.5L685.3 137.5L686.6 137.5L687.8 137.5L689.1 137.5L690.3 137.4L691.5 137.4L692.8 137.4L694.0 137.4L695.3 137.4L696.5 137.4L697.8 137.4L699.0 137.4L700.3 137.4L701.5 137.4L702.7 137.4L704.0 137.3L705.2 137.3L706.5 137.3L707.7 137.3L709.0 137.3L710.2 137.3L711.5 137.3L712.7 137.3L713.9 137.3L715.2 137.3L716.4 137.2L717.7 137.2L718.9 137.2L720.2 137.2L721.4 137.2L722.7 137.2L723.9 137.2L725.2 137.2L726.4 137.1L727.7 137.1L728.9 137.1L730.1 137.1L731.4 137.1L732.6 137.1L733.9 137.1L735.1 137.1L736.4 137.0L737.6 137.0L738.9 137.0L740.1 137.0L741.4 137.0L742.6 137.0L743.9 137.0L745.1 137.0L746.4 136.9L747.6 136.9L748.9 136.9L750.1 136.9L751.4 136.9L752.6 136.9L753.9 136.9L755.1 136.9L756.4 136.8L757.6 136.8L758.9 136.8L760.1 136.8L761.4 136.8L762.6 136.8L763.9 136.8L765.2 136.8L766.4 136.7L767.7 136.7L768.9 136.7L770.2 136.7L771.4 136.7L772.7 136.7L773.9 136.7L775.2 136.7L776.5 136.6L777.7 136.6L779.0 136.6L780.2 136.6L781.5 136.6L782.7 136.6L784.0 136.6L785.3 136.6" fill="none" stroke="#ff0000" stroke-width="0.85" stroke-dasharray="5.0 4.0" stroke-linejoin="round"/>
<path d="M512.5 22.1L512.7 23.3L513.0 24.5L513.2 25.7L513.4 26.9L513.7 28.1L513.9 29.3L514.1 30.5L514.4 31.7L514.6 32.9L514.9 34.1L515.1 35.4L515.4 36.6L515.6 37.8L515.9 39.0L516.1 40.2L516.4 41.4L516.6 42.7L516.9 43.9L517.2 45.1L517.5 46.3L517.7 47.5L518.0 48.8L518.3 50.0L518.6 51.2L518.9 52.4L519.2 53.6L519.5 54.9L519.8 56.1L520.1 57.3L520.4 58.5L520.7 59.7L521.0 60.9L521.4 62.1L521.7 63.4L522.0 64.6L522.4 65.8L522.7 67.0L523.1 68.2L523.5 69.4L523.8 70.6L524.2 71.8L524.6 73.0L525.0 74.2L525.4 75.4L525.8 76.5L526.2 77.7L526.6 78.9L527.0 80.1L527.5 81.3L527.9 82.4L528.3 83.6L528.8 84.8L529.3 86.0L529.7 87.1L530.2 88.3L530.7 89.4L531.2 90.6L531.7 91.7L532.2 92.9L532.7 94.0L533.3 95.1L533.8 96.2L534.4 97.4L535.0 98.5L535.6 99.6L536.2 100.7L536.8 101.7L537.4 102.8L538.0 103.9L538.7 104.9L539.4 105.9L540.1 107.0L540.8 108.0L541.5 109.0L542.3 110.0L543.0 110.9L543.8 111.9L544.7 112.8L545.5 113.7L546.3 114.7L547.2 115.5L548.1 116.4L549.0 117.3L549.9 118.1L550.8 118.9L551.8 119.7L552.8 120.5L553.7 121.3L554.7 122.0L555.8 122.8L556.8 123.5L557.8 124.2L558.9 124.8L560.0 125.5L561.1 126.1L562.2 126.7L563.3 127.3L564.4 127.8L565.5 128.4L566.6 128.9L567.8 129.4L568.9 129.9L570.1 130.3L571.2 130.7L572.4 131.1L573.5 131.5L574.7 131.9L575.9 132.3L577.1 132.6L578.3 132.9L579.4 133.2L580.6 133.5L581.8 133.8L583.1 134.0L584.3 134.3L585.5 134.5L586.7 134.7L587.9 134.9L589.2 135.1L590.4 135.3L591.6 135.4L592.9 135.6L594.1 135.7L595.3 135.9L596.6 136.0L597.8 136.1L599.1 136.2L600.3 136.3L601.6 136.4L602.8 136.4L604.1 136.5L605.4 136.6L606.6 136.6L607.9 136.7L609.2 136.7L610.4 136.8L611.7 136.8L612.9 136.9L614.2 136.9L615.5 136.9L616.7 136.9L618.0 137.0L619.3 137.0L620.5 137.0L621.8 137.0L623.0 137.1L624.3 137.1L625.6 137.1L626.8 137.1L628.1 137.1L629.3 137.2L630.6 137.2L631.9 137.2L633.1 137.2L634.4 137.2L635.6 137.2L636.9 137.3L638.1 137.3L639.4 137.3L640.6 137.3L641.9 137.3L643.1 137.3L644.4 137.3L645.6 137.4L646.9 137.4L648.1 137.4L649.4 137.4L650.6 137.4L651.9 137.4L653.1 137.4L654.4 137.4L655.6 137.4L656.9 137.4L658.1 137.4L659.4 137.4L660.6 137.4L661.9 137.4L663.1 137.4L664.4 137.4L665.6 137.5L666.9 137.5L668.1 137.5L669.3 137.5L670.6 137.5L671.8 137.5L673.1 137.5L674.3 137.5L675.6 137.5L676.8 137.5L678.0 137.5L679.3 137.5L680.5 137.4L681.8 137.4L683.0 137.4L684.3 137.4L685.5 137.4L686.7 137.4L688.0 137.4L689.2 137.4L690.5 137.4L691.7 137.4L692.9 137.4L694.2 137.4L695.4 137.4L696.7 137.4L697.9 137.4L699.2 137.4L700.4 137.4L701.6 137.4L702.9 137.3L704.1 137.3L705.4 137.3L706.6 137.3L707.8 137.3L709.1 137.3L710.3 137.3L711.6 137.3L712.8 137.3L714.0 137.3L715.3 137.2L716.5 137.2L717.8 137.2L719.0 137.2L720.3 137.2L721.5 137.2L722.7 137.2L724.0 137.2L725.2 137.2L726.5 137.1L727.7 137.1L729.0 137.1L730.2 137.1L731.4 137.1L732.7 137.1L733.9 137.1L735.2 137.1L736.4 137.0L737.7 137.0L738.9 137.0L740.2 137.0L741.4 137.0L742.6 137.0L743.9 137.0L745.1 137.0L746.4 136.9L747.6 136.9L748.9 136.9L750.1 136.9L751.4 136.9L752.6 136.9L753.9 136.9L755.1 136.9L756.4 136.8L757.6 136.8L758.9 136.8L760.1 136.8L761.4 136.8L762.6 136.8L763.9 136.8L765.1 136.8L766.4 136.7L767.7 136.7L768.9 136.7L770.2 136.7L771.4 136.7L772.7 136.7L773.9 136.7L775.2 136.7L776.5 136.6L777.7 136.6L779.0 136.6L780.2 136.6L781.5 136.6L782.8 136.6L784.0 136.6L785.3 136.6" fill="none" stroke="#ff0000" stroke-width="1.4" stroke-dasharray="0.01 5.55" stroke-linecap="round" stroke-linejoin="round"/>
<path d="M527.8 22.1L528.1 23.3L528.4 24.5L528.7 25.7L528.9 26.8L529.2 28.0L529.5 29.2L529.8 30.4L530.1 31.6L530.4 32.8L530.6 34.0L530.9 35.2L531.2 36.4L531.5 37.6L531.7 38.8L532.0 40.0L532.3 41.2L532.6 42.5L532.9 43.7L533.1 44.9L533.4 46.1L533.7 47.3L534.0 48.5L534.3 49.7L534.6 51.0L534.9 52.2L535.2 53.4L535.5 54.6L535.8 55.8L536.2 57.0L536.5 58.2L536.8 59.4L537.1 60.6L537.5 61.8L537.8 63.0L538.2 64.2L538.6 65.4L538.9 66.6L539.3 67.8L539.7 69.0L540.1 70.2L540.5 71.4L540.9 72.6L541.3 73.8L541.8 74.9L542.2 76.1L542.7 77.3L543.1 78.4L543.6 79.6L544.1 80.8L544.6 81.9L545.1 83.0L545.6 84.2L546.1 85.3L546.7 86.5L547.3 87.6L547.8 88.7L548.4 89.8L549.0 90.9L549.6 92.0L550.3 93.1L550.9 94.2L551.6 95.3L552.2 96.3L552.9 97.4L553.6 98.4L554.3 99.5L555.0 100.5L555.8 101.5L556.5 102.6L557.3 103.6L558.0 104.5L558.8 105.5L559.6 106.5L560.4 107.4L561.2 108.4L562.1 109.3L562.9 110.2L563.8 111.1L564.7 112.0L565.6 112.8L566.5 113.7L567.4 114.5L568.3 115.3L569.2 116.1L570.2 116.9L571.1 117.7L572.1 118.5L573.1 119.2L574.1 119.9L575.1 120.6L576.1 121.3L577.1 121.9L578.2 122.6L579.2 123.2L580.3 123.8L581.4 124.3L582.5 124.9L583.6 125.4L584.7 126.0L585.8 126.5L586.9 126.9L588.0 127.4L589.2 127.9L590.3 128.3L591.5 128.7L592.6 129.1L593.8 129.5L595.0 129.9L596.2 130.2L597.4 130.6L598.6 130.9L599.8 131.2L601.0 131.5L602.2 131.8L603.4 132.1L604.6 132.4L605.8 132.6L607.1 132.8L608.3 133.1L609.5 133.3L610.8 133.5L612.0 133.7L613.2 133.9L614.5 134.1L615.7 134.3L617.0 134.4L618.2 134.6L619.5 134.7L620.7 134.9L622.0 135.0L623.2 135.1L624.5 135.2L625.7 135.4L627.0 135.5L628.2 135.6L629.5 135.7L630.8 135.8L632.0 135.8L633.3 135.9L634.5 136.0L635.8 136.1L637.0 136.2L638.3 136.2L639.5 136.3L640.8 136.4L642.1 136.5L643.3 136.5L644.6 136.6L645.8 136.6L647.1 136.7L648.3 136.8L649.6 136.8L650.8 136.9L652.1 136.9L653.3 136.9L654.6 137.0L655.8 137.0L657.1 137.1L658.3 137.1L659.6 137.1L660.8 137.2L662.1 137.2L663.3 137.2L664.6 137.3L665.8 137.3L667.0 137.3L668.3 137.3L669.5 137.4L670.8 137.4L672.0 137.4L673.3 137.4L674.5 137.4L675.8 137.4L677.0 137.5L678.2 137.5L679.5 137.5L680.7 137.5L682.0 137.5L683.2 137.5L684.4 137.5L685.7 137.5L686.9 137.5L688.2 137.5L689.4 137.5L690.7 137.5L691.9 137.5L693.1 137.5L694.4 137.5L695.6 137.5L696.9 137.5L698.1 137.4L699.3 137.4L700.6 137.4L701.8 137.4L703.1 137.4L704.3 137.4L705.5 137.4L706.8 137.4L708.0 137.3L709.3 137.3L710.5 137.3L711.7 137.3L713.0 137.3L714.2 137.3L715.5 137.2L716.7 137.2L717.9 137.2L719.2 137.2L720.4 137.2L721.7 137.2L722.9 137.1L724.1 137.1L725.4 137.1L726.6 137.1L727.9 137.1L729.1 137.0L730.3 137.0L731.6 137.0L732.8 137.0L734.1 137.0L735.3 136.9L736.5 136.9L737.8 136.9L739.0 136.9L740.3 136.9L741.5 136.8L742.8 136.8L744.0 136.8L745.2 136.8L746.5 136.8L747.7 136.8L749.0 136.7L750.2 136.7L751.5 136.7L752.7 136.7L754.0 136.7L755.2 136.7L756.5 136.7L757.7 136.6L759.0 136.6L760.2 136.6L761.4 136.6L762.7 136.6L763.9 136.6L765.2 136.6L766.4 136.6L767.7 136.6L768.9 136.6L770.2 136.6L771.5 136.6L772.7 136.6L774.0 136.6L775.2 136.6L776.5 136.6L777.7 136.6L779.0 136.6L780.2 136.6L781.5 136.6L782.7 136.7L784.0 136.7L785.3 136.7" fill="none" stroke="#ff0000" stroke-width="2.45" stroke-dasharray="6.5 2.3" stroke-linejoin="round"/>
<path d="M542.3 22.2L542.6 23.3L542.9 24.5L543.2 25.7L543.5 26.8L543.8 28.0L544.1 29.2L544.4 30.4L544.7 31.6L545.0 32.7L545.3 33.9L545.6 35.1L545.9 36.3L546.2 37.5L546.5 38.7L546.8 39.9L547.1 41.1L547.5 42.3L547.8 43.5L548.1 44.7L548.5 45.9L548.8 47.1L549.1 48.3L549.5 49.6L549.8 50.8L550.2 52.0L550.6 53.2L550.9 54.4L551.3 55.6L551.7 56.8L552.1 58.0L552.5 59.2L552.9 60.4L553.3 61.6L553.7 62.8L554.1 64.0L554.5 65.1L555.0 66.3L555.4 67.5L555.8 68.7L556.3 69.9L556.8 71.0L557.2 72.2L557.7 73.4L558.2 74.5L558.7 75.7L559.2 76.8L559.7 78.0L560.2 79.1L560.8 80.2L561.3 81.4L561.9 82.5L562.4 83.6L563.0 84.7L563.6 85.8L564.2 86.9L564.8 88.0L565.4 89.1L566.0 90.2L566.7 91.3L567.3 92.3L568.0 93.4L568.7 94.4L569.4 95.5L570.1 96.5L570.8 97.5L571.5 98.5L572.2 99.5L573.0 100.5L573.7 101.5L574.5 102.5L575.3 103.4L576.1 104.4L576.9 105.3L577.7 106.2L578.6 107.2L579.4 108.1L580.3 108.9L581.2 109.8L582.1 110.7L583.0 111.5L583.9 112.4L584.8 113.2L585.8 114.0L586.7 114.8L587.7 115.5L588.7 116.3L589.7 117.0L590.7 117.8L591.7 118.5L592.7 119.2L593.8 119.9L594.8 120.5L595.9 121.2L596.9 121.8L598.0 122.4L599.1 123.0L600.2 123.6L601.3 124.2L602.4 124.8L603.5 125.3L604.6 125.8L605.8 126.3L606.9 126.8L608.0 127.3L609.2 127.7L610.3 128.2L611.5 128.6L612.7 129.0L613.8 129.4L615.0 129.8L616.2 130.2L617.3 130.5L618.5 130.9L619.7 131.2L620.9 131.5L622.1 131.8L623.3 132.1L624.5 132.4L625.7 132.6L626.9 132.9L628.2 133.1L629.4 133.4L630.6 133.6L631.8 133.8L633.1 134.0L634.3 134.2L635.5 134.3L636.8 134.5L638.0 134.7L639.3 134.8L640.5 135.0L641.8 135.1L643.0 135.2L644.3 135.3L645.5 135.5L646.8 135.6L648.0 135.7L649.3 135.8L650.5 135.8L651.8 135.9L653.1 136.0L654.3 136.1L655.6 136.1L656.8 136.2L658.1 136.2L659.4 136.3L660.6 136.4L661.9 136.4L663.1 136.4L664.4 136.5L665.7 136.5L666.9 136.6L668.2 136.6L669.5 136.6L670.7 136.6L672.0 136.7L673.2 136.7L674.5 136.7L675.7 136.8L677.0 136.8L678.2 136.8L679.5 136.8L680.7 136.9L682.0 136.9L683.2 136.9L684.5 136.9L685.7 136.9L687.0 137.0L688.2 137.0L689.5 137.0L690.7 137.0L692.0 137.0L693.2 137.0L694.4 137.1L695.7 137.1L696.9 137.1L698.2 137.1L699.4 137.1L700.7 137.1L701.9 137.1L703.1 137.1L704.4 137.1L705.6 137.1L706.8 137.1L708.1 137.2L709.3 137.2L710.6 137.2L711.8 137.2L713.0 137.2L714.3 137.2L715.5 137.2L716.7 137.2L718.0 137.2L719.2 137.2L720.5 137.2L721.7 137.2L722.9 137.2L724.2 137.2L725.4 137.2L726.6 137.1L727.9 137.1L729.1 137.1L730.3 137.1L731.6 137.1L732.8 137.1L734.1 137.1L735.3 137.1L736.5 137.1L737.8 137.1L739.0 137.1L740.2 137.1L741.5 137.1L742.7 137.0L744.0 137.0L745.2 137.0L746.4 137.0L747.7 137.0L748.9 137.0L750.2 137.0L751.4 137.0L752.7 136.9L753.9 136.9L755.1 136.9L756.4 136.9L757.6 136.9L758.9 136.9L760.1 136.9L761.4 136.8L762.6 136.8L763.9 136.8L765.1 136.8L766.4 136.8L767.6 136.8L768.9 136.7L770.2 136.7L771.4 136.7L772.7 136.7L773.9 136.7L775.2 136.7L776.4 136.6L777.7 136.6L779.0 136.6L780.2 136.6L781.5 136.6L782.8 136.5L784.0 136.5L785.3 136.5" fill="none" stroke="#ff0000" stroke-width="2.45" stroke-linejoin="round"/>
</g>
<path d="M470.60 228.30v-3.5M470.60 26.05v3.5M490.25 228.30v-2.1M490.25 26.05v2.1M509.90 228.30v-2.1M509.90 26.05v2.1M529.55 228.30v-2.1M529.55 26.05v2.1M549.20 228.30v-2.1M549.20 26.05v2.1M568.85 228.30v-3.5M568.85 26.05v3.5M588.50 228.30v-2.1M588.50 26.05v2.1M608.15 228.30v-2.1M608.15 26.05v2.1M627.80 228.30v-2.1M627.80 26.05v2.1M647.45 228.30v-2.1M647.45 26.05v2.1M667.10 228.30v-3.5M667.10 26.05v3.5M686.75 228.30v-2.1M686.75 26.05v2.1M706.40 228.30v-2.1M706.40 26.05v2.1M726.05 228.30v-2.1M726.05 26.05v2.1M745.70 228.30v-2.1M745.70 26.05v2.1M765.35 228.30v-3.5M765.35 26.05v3.5M785.00 228.30v-2.1M785.00 26.05v2.1M464.50 218.19h2.1M791.50 218.19h-2.1M464.50 208.08h2.1M791.50 208.08h-2.1M464.50 197.96h2.1M791.50 197.96h-2.1M464.50 187.85h3.5M791.50 187.85h-3.5M464.50 177.74h2.1M791.50 177.74h-2.1M464.50 167.62h2.1M791.50 167.62h-2.1M464.50 157.51h2.1M791.50 157.51h-2.1M464.50 147.40h3.5M791.50 147.40h-3.5M464.50 137.29h2.1M791.50 137.29h-2.1M464.50 127.18h2.1M791.50 127.18h-2.1M464.50 117.06h2.1M791.50 117.06h-2.1M464.50 106.95h3.5M791.50 106.95h-3.5M464.50 96.84h2.1M791.50 96.84h-2.1M464.50 86.72h2.1M791.50 86.72h-2.1M464.50 76.61h2.1M791.50 76.61h-2.1M464.50 66.50h3.5M791.50 66.50h-3.5M464.50 56.39h2.1M791.50 56.39h-2.1M464.50 46.28h2.1M791.50 46.28h-2.1M464.50 36.16h2.1M791.50 36.16h-2.1" stroke="#7f7f7f" stroke-width="1" fill="none"/>
<rect x="464.5" y="26.05" width="327.0" height="202.25" fill="none" stroke="#7f7f7f" stroke-width="1"/>
<text transform="translate(470.90 248.00) scale(0.89 1)" text-anchor="middle" class="tk">0</text>
<text transform="translate(569.15 248.00) scale(0.89 1)" text-anchor="middle" class="tk">500</text>
<text transform="translate(667.40 248.00) scale(0.89 1)" text-anchor="middle" class="tk">1000</text>
<text transform="translate(765.65 248.00) scale(0.89 1)" text-anchor="middle" class="tk">1500</text>
<text transform="translate(461.50 235.00) scale(0.89 1)" text-anchor="end" class="tk">2</text>
<text transform="translate(461.50 194.55) scale(0.89 1)" text-anchor="end" class="tk">4</text>
<text transform="translate(461.50 154.10) scale(0.89 1)" text-anchor="end" class="tk">6</text>
<text transform="translate(461.50 113.65) scale(0.89 1)" text-anchor="end" class="tk">8</text>
<text transform="translate(461.50 73.20) scale(0.89 1)" text-anchor="end" class="tk">10</text>
<text transform="translate(461.50 32.75) scale(0.89 1)" text-anchor="end" class="tk">12</text>
<clipPath id="cpc"><rect x="72.0" y="324.0" width="326.0" height="205.5"/></clipPath>
<rect x="79.20" y="400.35" width="312.35" height="30.05" fill="#d9d9d9"/>
<line x1="78.50" x2="391.55" y1="430.40" y2="430.40" stroke="#454545" stroke-width="1" stroke-dasharray="5.6 3.4"/>
<line x1="78.50" x2="391.55" y1="400.35" y2="400.35" stroke="#454545" stroke-width="1" stroke-dasharray="5.6 3.4"/>
<line x1="78.30" x2="392.55" y1="415.15" y2="415.15" stroke="#000" stroke-width="2.5"/>
<g clip-path="url(#cpc)">
<path d="M78.5 459.0L79.8 459.0L81.0 459.0L82.2 459.0L83.5 459.0L84.7 459.1L85.9 459.1L87.2 459.1L88.4 459.1L89.6 459.1L90.9 459.1L92.1 459.2L93.3 459.2L94.6 459.2L95.8 459.2L97.1 459.2L98.3 459.3L99.6 459.3L100.8 459.3L102.1 459.3L103.3 459.4L104.6 459.4L105.8 459.4L107.1 459.4L108.3 459.5L109.6 459.5L110.8 459.5L112.1 459.6L113.3 459.6L114.6 459.6L115.8 459.6L117.1 459.7L118.3 459.7L119.6 459.7L120.9 459.7L122.1 459.8L123.4 459.8L124.6 459.8L125.9 459.8L127.1 459.9L128.4 459.9L129.6 459.9L130.9 459.9L132.2 459.9L133.4 459.9L134.7 460.0L135.9 460.0L137.2 460.0L138.4 460.0L139.7 460.0L140.9 460.0L142.2 460.0L143.4 460.0L144.7 460.0L145.9 460.0L147.2 460.0L148.4 460.0L149.7 460.0L150.9 460.0L152.2 460.0L153.4 460.0L154.7 460.0L155.9 459.9L157.2 459.9L158.4 459.8L159.7 459.8L160.9 459.7L162.1 459.7L163.4 459.6L164.6 459.5L165.8 459.4L167.1 459.3L168.3 459.2L169.5 459.1L170.8 459.0L172.0 458.9L173.2 458.7L174.4 458.6L175.7 458.4L176.9 458.2L178.1 458.1L179.3 457.9L180.5 457.6L181.8 457.4L183.0 457.2L184.2 456.9L185.4 456.7L186.6 456.4L187.8 456.1L189.0 455.8L190.2 455.5L191.4 455.2L192.6 454.8L193.8 454.5L195.0 454.1L196.2 453.7L197.4 453.4L198.6 453.0L199.7 452.6L200.9 452.2L202.1 451.7L203.3 451.3L204.4 450.9L205.6 450.4L206.8 450.0L207.9 449.5L209.1 449.1L210.3 448.6L211.4 448.2L212.6 447.7L213.7 447.2L214.9 446.8L216.0 446.3L217.1 445.8L218.3 445.3L219.4 444.8L220.5 444.3L221.7 443.8L222.8 443.2L223.9 442.7L225.0 442.1L226.1 441.6L227.3 441.0L228.4 440.4L229.5 439.8L230.6 439.2L231.7 438.6L232.8 437.9L233.8 437.3L234.9 436.7L236.0 436.0L237.1 435.4L238.2 434.7L239.2 434.0L240.3 433.3L241.4 432.6L242.4 432.0L243.5 431.3L244.5 430.6L245.6 429.8L246.6 429.1L247.6 428.4L248.7 427.7L249.7 427.0L250.7 426.2L251.7 425.5L252.8 424.8L253.8 424.0L254.8 423.3L255.8 422.6L256.8 421.8L257.8 421.1L258.8 420.3L259.8 419.6L260.7 418.8L261.7 418.1L262.7 417.3L263.7 416.6L264.7 415.8L265.6 415.1L266.6 414.3L267.6 413.6L268.6 412.8L269.5 412.1L270.5 411.3L271.5 410.5L272.4 409.8L273.4 409.0L274.4 408.3L275.4 407.5L276.3 406.7L277.3 406.0L278.3 405.2L279.3 404.4L280.2 403.7L281.2 402.9L282.2 402.2L283.2 401.4L284.2 400.6L285.1 399.9L286.1 399.1L287.1 398.3L288.1 397.6L289.1 396.8L290.1 396.1L291.1 395.3L292.0 394.5L293.0 393.8L294.0 393.0L295.0 392.3L296.0 391.5L297.0 390.8L298.0 390.0L299.0 389.3L300.0 388.5L301.0 387.8L302.0 387.0L303.0 386.3L304.0 385.5L305.0 384.8L306.0 384.1L307.0 383.3L308.0 382.6L309.0 381.8L310.0 381.1L311.1 380.4L312.1 379.7L313.1 378.9L314.1 378.2L315.1 377.5L316.2 376.8L317.2 376.1L318.2 375.4L319.3 374.7L320.3 373.9L321.3 373.2L322.4 372.5L323.4 371.9L324.5 371.2L325.5 370.5L326.6 369.8L327.6 369.1L328.7 368.4L329.7 367.8L330.8 367.1L331.8 366.4L332.9 365.8L334.0 365.1L335.1 364.5L336.1 363.8L337.2 363.2L338.3 362.6L339.4 361.9L340.5 361.3L341.6 360.7L342.7 360.1L343.8 359.5L344.9 358.9L346.0 358.4L347.1 357.8L348.2 357.2L349.3 356.7L350.4 356.1L351.5 355.6L352.7 355.1L353.8 354.6L354.9 354.1L356.0 353.6L357.2 353.1L358.3 352.6L359.5 352.1L360.6 351.7L361.8 351.3L362.9 350.8L364.1 350.4L365.2 350.0L366.4 349.6L367.6 349.2L368.7 348.8L369.9 348.5L371.1 348.1L372.3 347.7L373.5 347.4L374.6 347.0L375.8 346.7L377.0 346.3L378.2 346.0L379.4 345.6L380.6 345.3L381.9 345.0L383.1 344.6L384.3 344.3L385.5 343.9L386.7 343.6L388.0 343.2L389.2 342.9L390.4 342.5L391.7 342.2" fill="none" stroke="#0000ff" stroke-width="0.8" stroke-linejoin="round"/>
<path d="M78.7 459.0L79.9 459.0L81.1 459.0L82.3 459.0L83.5 459.0L84.7 459.0L86.0 459.0L87.2 459.0L88.4 459.0L89.7 459.0L90.9 459.1L92.1 459.1L93.4 459.1L94.6 459.1L95.8 459.1L97.1 459.2L98.3 459.2L99.5 459.2L100.8 459.3L102.0 459.3L103.3 459.3L104.5 459.4L105.8 459.4L107.0 459.4L108.3 459.5L109.5 459.5L110.8 459.5L112.0 459.6L113.3 459.6L114.5 459.6L115.8 459.7L117.0 459.7L118.3 459.8L119.5 459.8L120.8 459.8L122.1 459.9L123.3 459.9L124.6 459.9L125.8 460.0L127.1 460.0L128.4 460.0L129.6 460.0L130.9 460.1L132.1 460.1L133.4 460.1L134.7 460.1L135.9 460.1L137.2 460.2L138.4 460.2L139.7 460.2L141.0 460.2L142.2 460.2L143.5 460.2L144.7 460.2L146.0 460.2L147.3 460.2L148.5 460.2L149.8 460.1L151.0 460.1L152.3 460.1L153.6 460.1L154.8 460.0L156.1 460.0L157.3 460.0L158.6 459.9L159.8 459.9L161.1 459.8L162.3 459.7L163.6 459.7L164.8 459.6L166.1 459.5L167.3 459.5L168.6 459.4L169.8 459.3L171.1 459.2L172.3 459.1L173.6 459.0L174.8 458.8L176.0 458.7L177.3 458.6L178.5 458.4L179.8 458.3L181.0 458.2L182.2 458.0L183.5 457.8L184.7 457.7L185.9 457.5L187.1 457.3L188.4 457.1L189.6 456.9L190.8 456.7L192.0 456.5L193.2 456.2L194.5 456.0L195.7 455.7L196.9 455.5L198.1 455.2L199.3 454.9L200.5 454.6L201.7 454.3L202.9 454.0L204.1 453.6L205.3 453.3L206.5 452.9L207.7 452.6L208.9 452.2L210.1 451.8L211.2 451.4L212.4 451.0L213.6 450.6L214.8 450.1L216.0 449.7L217.1 449.2L218.3 448.8L219.5 448.3L220.6 447.8L221.8 447.4L222.9 446.9L224.1 446.4L225.2 445.9L226.4 445.4L227.5 444.8L228.7 444.3L229.8 443.8L230.9 443.3L232.1 442.8L233.2 442.2L234.3 441.7L235.4 441.2L236.5 440.6L237.6 440.1L238.8 439.5L239.9 439.0L241.0 438.5L242.1 437.9L243.2 437.4L244.2 436.8L245.3 436.2L246.4 435.7L247.5 435.1L248.6 434.5L249.6 433.9L250.7 433.3L251.8 432.7L252.8 432.0L253.9 431.4L254.9 430.7L256.0 430.0L257.0 429.3L258.0 428.6L259.1 427.9L260.1 427.2L261.1 426.4L262.2 425.7L263.2 424.9L264.2 424.1L265.2 423.4L266.2 422.6L267.2 421.8L268.2 421.0L269.2 420.2L270.2 419.4L271.2 418.6L272.2 417.8L273.2 417.1L274.2 416.3L275.2 415.5L276.2 414.7L277.2 413.9L278.2 413.1L279.1 412.3L280.1 411.6L281.1 410.8L282.1 410.0L283.1 409.3L284.0 408.5L285.0 407.7L286.0 407.0L286.9 406.2L287.9 405.4L288.9 404.7L289.8 403.9L290.8 403.1L291.8 402.3L292.7 401.5L293.7 400.8L294.7 400.0L295.6 399.2L296.6 398.4L297.6 397.6L298.5 396.8L299.5 396.0L300.5 395.2L301.4 394.4L302.4 393.6L303.4 392.8L304.3 392.0L305.3 391.3L306.3 390.5L307.2 389.7L308.2 388.9L309.2 388.1L310.2 387.3L311.1 386.5L312.1 385.7L313.1 384.9L314.1 384.1L315.1 383.4L316.0 382.6L317.0 381.8L318.0 381.0L319.0 380.3L320.0 379.5L321.0 378.7L322.0 378.0L323.0 377.2L324.0 376.5L325.0 375.7L326.0 375.0L327.0 374.3L328.0 373.5L329.0 372.8L330.0 372.1L331.1 371.4L332.1 370.7L333.1 369.9L334.1 369.2L335.2 368.6L336.2 367.9L337.2 367.2L338.3 366.5L339.3 365.8L340.4 365.2L341.4 364.5L342.5 363.8L343.5 363.2L344.6 362.5L345.7 361.9L346.7 361.3L347.8 360.7L348.9 360.0L350.0 359.4L351.0 358.8L352.1 358.2L353.2 357.6L354.3 357.0L355.4 356.5L356.5 355.9L357.6 355.3L358.7 354.8L359.8 354.2L361.0 353.7L362.1 353.2L363.2 352.6L364.4 352.1L365.5 351.6L366.6 351.1L367.8 350.6L368.9 350.1L370.1 349.7L371.2 349.2L372.4 348.7L373.6 348.3L374.7 347.8L375.9 347.4L377.1 347.0L378.3 346.6L379.5 346.1L380.7 345.7L381.9 345.4L383.1 345.0L384.3 344.6L385.5 344.2L386.8 343.9L388.0 343.6L389.2 343.2L390.5 342.9L391.7 342.6" fill="none" stroke="#0000ff" stroke-width="0.85" stroke-dasharray="5.0 4.0" stroke-linejoin="round"/>
<path d="M78.6 459.0L79.8 459.0L81.0 459.0L82.3 459.0L83.5 459.0L84.7 459.0L86.0 459.0L87.2 459.0L88.4 459.0L89.7 459.0L90.9 459.0L92.1 459.0L93.4 459.1L94.6 459.1L95.9 459.1L97.1 459.1L98.3 459.1L99.6 459.2L100.8 459.2L102.1 459.2L103.3 459.3L104.6 459.3L105.8 459.3L107.1 459.4L108.3 459.4L109.6 459.4L110.8 459.5L112.1 459.5L113.3 459.5L114.6 459.6L115.8 459.6L117.1 459.7L118.3 459.7L119.6 459.7L120.8 459.8L122.1 459.8L123.3 459.9L124.6 459.9L125.8 459.9L127.1 460.0L128.4 460.0L129.6 460.0L130.9 460.1L132.1 460.1L133.4 460.1L134.6 460.2L135.9 460.2L137.1 460.2L138.4 460.2L139.7 460.2L140.9 460.3L142.2 460.3L143.4 460.3L144.7 460.3L145.9 460.3L147.2 460.3L148.4 460.3L149.7 460.3L151.0 460.3L152.2 460.3L153.5 460.3L154.7 460.3L156.0 460.3L157.2 460.2L158.5 460.2L159.7 460.2L161.0 460.1L162.2 460.1L163.5 460.1L164.7 460.0L166.0 460.0L167.2 459.9L168.5 459.8L169.7 459.8L171.0 459.7L172.2 459.6L173.4 459.5L174.7 459.4L175.9 459.3L177.2 459.2L178.4 459.1L179.7 459.0L180.9 458.9L182.1 458.8L183.4 458.6L184.6 458.5L185.8 458.4L187.1 458.2L188.3 458.0L189.5 457.9L190.8 457.7L192.0 457.5L193.2 457.3L194.4 457.1L195.7 456.9L196.9 456.7L198.1 456.5L199.3 456.3L200.6 456.0L201.8 455.8L203.0 455.5L204.2 455.3L205.4 455.0L206.6 454.7L207.8 454.4L209.1 454.1L210.3 453.8L211.5 453.5L212.7 453.2L213.9 452.9L215.1 452.6L216.3 452.2L217.5 451.9L218.6 451.5L219.8 451.1L221.0 450.8L222.2 450.4L223.4 450.0L224.6 449.6L225.7 449.2L226.9 448.8L228.1 448.4L229.3 447.9L230.4 447.5L231.6 447.0L232.8 446.6L233.9 446.1L235.1 445.7L236.2 445.2L237.4 444.7L238.5 444.2L239.7 443.7L240.8 443.2L241.9 442.7L243.1 442.1L244.2 441.6L245.3 441.1L246.5 440.5L247.6 440.0L248.7 439.4L249.8 438.8L250.9 438.3L252.0 437.7L253.1 437.1L254.2 436.5L255.3 435.9L256.4 435.2L257.5 434.6L258.6 434.0L259.7 433.3L260.7 432.7L261.8 432.0L262.9 431.4L263.9 430.7L265.0 430.0L266.0 429.3L267.1 428.7L268.1 428.0L269.2 427.2L270.2 426.5L271.2 425.8L272.3 425.1L273.3 424.4L274.3 423.6L275.3 422.9L276.3 422.2L277.4 421.4L278.4 420.7L279.4 419.9L280.4 419.2L281.4 418.4L282.4 417.7L283.4 416.9L284.4 416.2L285.4 415.4L286.3 414.6L287.3 413.9L288.3 413.1L289.3 412.4L290.3 411.6L291.3 410.9L292.2 410.1L293.2 409.4L294.2 408.6L295.2 407.9L296.1 407.1L297.1 406.4L298.1 405.6L299.0 404.8L300.0 404.1L301.0 403.3L301.9 402.5L302.9 401.7L303.8 401.0L304.8 400.2L305.8 399.4L306.7 398.6L307.7 397.8L308.7 397.0L309.6 396.2L310.6 395.4L311.5 394.6L312.5 393.8L313.5 393.0L314.4 392.1L315.4 391.3L316.4 390.5L317.3 389.7L318.3 388.9L319.3 388.1L320.2 387.3L321.2 386.5L322.2 385.7L323.1 384.9L324.1 384.1L325.1 383.3L326.1 382.6L327.1 381.8L328.0 381.0L329.0 380.2L330.0 379.5L331.0 378.7L332.0 377.9L333.0 377.2L334.0 376.4L335.0 375.7L336.0 375.0L337.0 374.2L338.0 373.5L339.0 372.8L340.0 372.0L341.0 371.3L342.1 370.6L343.1 369.9L344.1 369.2L345.1 368.5L346.2 367.8L347.2 367.1L348.2 366.5L349.3 365.8L350.3 365.1L351.4 364.4L352.4 363.8L353.5 363.1L354.5 362.5L355.6 361.8L356.7 361.2L357.7 360.6L358.8 359.9L359.9 359.3L360.9 358.7L362.0 358.1L363.1 357.5L364.2 356.9L365.3 356.3L366.4 355.7L367.5 355.2L368.6 354.6L369.7 354.0L370.8 353.5L372.0 352.9L373.1 352.4L374.2 351.8L375.3 351.3L376.5 350.8L377.6 350.3L378.8 349.8L379.9 349.3L381.1 348.8L382.2 348.3L383.4 347.8L384.6 347.3L385.7 346.9L386.9 346.4L388.1 345.9L389.3 345.5L390.5 345.1L391.7 344.6" fill="none" stroke="#0000ff" stroke-width="1.4" stroke-dasharray="0.01 5.55" stroke-linecap="round" stroke-linejoin="round"/>
<path d="M78.7 459.0L79.9 459.0L81.1 459.0L82.3 459.0L83.5 459.0L84.8 459.0L86.0 459.0L87.2 459.0L88.4 459.0L89.7 459.1L90.9 459.1L92.1 459.1L93.4 459.1L94.6 459.1L95.8 459.1L97.1 459.2L98.3 459.2L99.5 459.2L100.8 459.2L102.0 459.3L103.2 459.3L104.5 459.3L105.7 459.4L107.0 459.4L108.2 459.4L109.5 459.5L110.7 459.5L111.9 459.5L113.2 459.6L114.4 459.6L115.7 459.6L116.9 459.7L118.2 459.7L119.4 459.7L120.7 459.8L121.9 459.8L123.2 459.8L124.4 459.9L125.7 459.9L126.9 459.9L128.2 460.0L129.4 460.0L130.7 460.0L131.9 460.1L133.2 460.1L134.4 460.1L135.7 460.1L136.9 460.2L138.2 460.2L139.5 460.2L140.7 460.2L142.0 460.2L143.2 460.3L144.5 460.3L145.7 460.3L147.0 460.3L148.2 460.3L149.5 460.3L150.8 460.3L152.0 460.3L153.3 460.4L154.5 460.4L155.8 460.4L157.0 460.3L158.3 460.3L159.5 460.3L160.8 460.3L162.0 460.3L163.3 460.3L164.6 460.3L165.8 460.2L167.1 460.2L168.3 460.2L169.6 460.2L170.8 460.1L172.1 460.1L173.3 460.0L174.6 460.0L175.8 459.9L177.1 459.9L178.3 459.8L179.6 459.8L180.8 459.7L182.1 459.6L183.3 459.5L184.6 459.5L185.8 459.4L187.1 459.3L188.3 459.2L189.6 459.1L190.8 459.0L192.0 458.9L193.3 458.8L194.5 458.7L195.8 458.6L197.0 458.4L198.2 458.3L199.5 458.2L200.7 458.0L202.0 457.9L203.2 457.7L204.4 457.6L205.7 457.4L206.9 457.2L208.1 457.0L209.3 456.9L210.6 456.7L211.8 456.5L213.0 456.3L214.3 456.1L215.5 455.9L216.7 455.6L217.9 455.4L219.1 455.2L220.4 454.9L221.6 454.7L222.8 454.4L224.0 454.1L225.2 453.9L226.4 453.6L227.6 453.3L228.8 453.0L230.0 452.7L231.2 452.4L232.4 452.1L233.6 451.8L234.8 451.5L236.0 451.1L237.2 450.8L238.4 450.5L239.6 450.1L240.7 449.8L241.9 449.4L243.1 449.1L244.3 448.7L245.4 448.3L246.6 447.9L247.8 447.5L248.9 447.1L250.1 446.7L251.2 446.3L252.4 445.8L253.6 445.4L254.7 444.9L255.8 444.5L257.0 444.0L258.1 443.5L259.3 443.0L260.4 442.5L261.5 441.9L262.7 441.4L263.8 440.9L264.9 440.3L266.0 439.8L267.1 439.2L268.2 438.6L269.3 438.1L270.4 437.5L271.5 436.9L272.6 436.3L273.7 435.7L274.8 435.1L275.9 434.5L277.0 433.9L278.1 433.3L279.2 432.6L280.2 432.0L281.3 431.4L282.4 430.7L283.4 430.1L284.5 429.4L285.6 428.8L286.6 428.1L287.7 427.4L288.7 426.8L289.8 426.1L290.9 425.4L291.9 424.7L293.0 424.0L294.0 423.3L295.0 422.6L296.1 422.0L297.1 421.2L298.2 420.5L299.2 419.8L300.2 419.1L301.3 418.4L302.3 417.7L303.3 417.0L304.4 416.3L305.4 415.5L306.4 414.8L307.4 414.1L308.4 413.4L309.5 412.6L310.5 411.9L311.5 411.2L312.5 410.4L313.5 409.7L314.6 409.0L315.6 408.2L316.6 407.5L317.6 406.7L318.6 406.0L319.6 405.3L320.6 404.5L321.6 403.8L322.6 403.0L323.7 402.3L324.7 401.5L325.7 400.8L326.7 400.1L327.7 399.3L328.7 398.6L329.7 397.8L330.7 397.1L331.7 396.4L332.7 395.6L333.7 394.9L334.7 394.2L335.7 393.4L336.7 392.7L337.7 392.0L338.7 391.3L339.7 390.5L340.7 389.8L341.8 389.1L342.8 388.3L343.8 387.6L344.8 386.9L345.8 386.2L346.8 385.5L347.8 384.7L348.8 384.0L349.8 383.3L350.8 382.6L351.8 381.9L352.9 381.2L353.9 380.5L354.9 379.7L355.9 379.0L356.9 378.3L357.9 377.6L359.0 376.9L360.0 376.2L361.0 375.5L362.0 374.8L363.1 374.1L364.1 373.3L365.1 372.6L366.1 371.9L367.2 371.2L368.2 370.5L369.2 369.8L370.3 369.1L371.3 368.4L372.4 367.7L373.4 367.0L374.4 366.3L375.5 365.6L376.5 364.9L377.6 364.3L378.6 363.6L379.7 362.9L380.8 362.3L381.8 361.6L382.9 361.0L383.9 360.4L385.0 359.7L386.1 359.1L387.2 358.6L388.2 358.0L389.3 357.4L390.4 356.9L391.5 356.3" fill="none" stroke="#0000ff" stroke-width="2.45" stroke-dasharray="6.5 2.3" stroke-linejoin="round"/>
<path d="M78.7 459.0L79.9 459.0L81.1 459.0L82.4 459.0L83.6 459.0L84.8 459.0L86.0 459.0L87.3 459.0L88.5 459.0L89.7 459.0L90.9 459.0L92.2 459.0L93.4 459.1L94.6 459.1L95.9 459.1L97.1 459.1L98.3 459.1L99.6 459.2L100.8 459.2L102.0 459.2L103.3 459.3L104.5 459.3L105.7 459.3L107.0 459.3L108.2 459.4L109.5 459.4L110.7 459.4L112.0 459.5L113.2 459.5L114.4 459.6L115.7 459.6L116.9 459.6L118.2 459.7L119.4 459.7L120.7 459.7L121.9 459.8L123.2 459.8L124.4 459.9L125.7 459.9L126.9 459.9L128.2 460.0L129.4 460.0L130.7 460.1L131.9 460.1L133.2 460.1L134.5 460.2L135.7 460.2L137.0 460.2L138.2 460.3L139.5 460.3L140.7 460.3L142.0 460.4L143.2 460.4L144.5 460.4L145.8 460.4L147.0 460.5L148.3 460.5L149.5 460.5L150.8 460.5L152.0 460.6L153.3 460.6L154.5 460.6L155.8 460.6L157.1 460.6L158.3 460.6L159.6 460.6L160.8 460.7L162.1 460.7L163.3 460.7L164.6 460.7L165.9 460.7L167.1 460.7L168.4 460.6L169.6 460.6L170.9 460.6L172.1 460.6L173.4 460.6L174.6 460.6L175.9 460.5L177.2 460.5L178.4 460.5L179.7 460.5L180.9 460.4L182.2 460.4L183.4 460.3L184.7 460.3L185.9 460.2L187.2 460.2L188.4 460.1L189.7 460.1L190.9 460.0L192.2 459.9L193.4 459.9L194.7 459.8L195.9 459.7L197.2 459.6L198.4 459.5L199.6 459.5L200.9 459.4L202.1 459.3L203.4 459.1L204.6 459.0L205.9 458.9L207.1 458.8L208.3 458.7L209.6 458.5L210.8 458.4L212.0 458.3L213.3 458.1L214.5 458.0L215.7 457.8L217.0 457.7L218.2 457.5L219.4 457.3L220.7 457.1L221.9 457.0L223.1 456.8L224.3 456.6L225.6 456.4L226.8 456.2L228.0 456.0L229.2 455.7L230.5 455.5L231.7 455.3L232.9 455.1L234.1 454.8L235.3 454.6L236.5 454.3L237.7 454.1L238.9 453.8L240.2 453.5L241.4 453.2L242.6 452.9L243.8 452.6L245.0 452.3L246.2 452.0L247.4 451.7L248.6 451.4L249.8 451.1L251.0 450.7L252.2 450.4L253.3 450.1L254.5 449.7L255.7 449.4L256.9 449.0L258.1 448.6L259.3 448.2L260.5 447.9L261.6 447.5L262.8 447.1L264.0 446.7L265.2 446.3L266.3 445.9L267.5 445.4L268.7 445.0L269.9 444.6L271.0 444.2L272.2 443.7L273.4 443.3L274.5 442.8L275.7 442.4L276.8 441.9L278.0 441.4L279.1 441.0L280.3 440.5L281.4 440.0L282.6 439.5L283.7 439.0L284.9 438.5L286.0 438.0L287.2 437.5L288.3 437.0L289.4 436.5L290.6 436.0L291.7 435.4L292.8 434.9L294.0 434.4L295.1 433.8L296.2 433.3L297.3 432.7L298.5 432.2L299.6 431.6L300.7 431.0L301.8 430.5L302.9 429.9L304.0 429.3L305.1 428.7L306.3 428.2L307.4 427.6L308.5 427.0L309.6 426.4L310.7 425.8L311.8 425.2L312.8 424.6L313.9 424.0L315.0 423.3L316.1 422.7L317.2 422.1L318.3 421.5L319.4 420.8L320.4 420.2L321.5 419.6L322.6 418.9L323.7 418.3L324.7 417.6L325.8 417.0L326.9 416.3L327.9 415.7L329.0 415.0L330.1 414.3L331.1 413.7L332.2 413.0L333.2 412.3L334.3 411.7L335.4 411.0L336.4 410.3L337.5 409.6L338.5 409.0L339.6 408.3L340.6 407.6L341.7 406.9L342.7 406.2L343.8 405.6L344.8 404.9L345.8 404.2L346.9 403.5L347.9 402.8L349.0 402.1L350.0 401.4L351.1 400.7L352.1 400.0L353.1 399.3L354.2 398.6L355.2 397.9L356.2 397.2L357.3 396.5L358.3 395.8L359.4 395.1L360.4 394.4L361.4 393.7L362.5 393.1L363.5 392.4L364.5 391.7L365.6 391.0L366.6 390.3L367.6 389.6L368.7 388.9L369.7 388.2L370.7 387.5L371.8 386.8L372.8 386.1L373.8 385.4L374.9 384.7L375.9 384.1L376.9 383.4L378.0 382.7L379.0 382.0L380.0 381.3L381.1 380.6L382.1 380.0L383.2 379.3L384.2 378.6L385.2 378.0L386.3 377.3L387.3 376.6L388.4 376.0L389.4 375.3L390.4 374.6L391.5 374.0" fill="none" stroke="#0000ff" stroke-width="2.45" stroke-linejoin="round"/>
</g>
<path d="M78.75 529.00v-3.5M78.75 324.50v3.5M91.25 529.00v-2.1M91.25 324.50v2.1M103.75 529.00v-2.1M103.75 324.50v2.1M116.25 529.00v-2.1M116.25 324.50v2.1M128.75 529.00v-2.1M128.75 324.50v2.1M141.25 529.00v-3.5M141.25 324.50v3.5M153.75 529.00v-2.1M153.75 324.50v2.1M166.25 529.00v-2.1M166.25 324.50v2.1M178.75 529.00v-2.1M178.75 324.50v2.1M191.25 529.00v-2.1M191.25 324.50v2.1M203.75 529.00v-3.5M203.75 324.50v3.5M216.25 529.00v-2.1M216.25 324.50v2.1M228.75 529.00v-2.1M228.75 324.50v2.1M241.25 529.00v-2.1M241.25 324.50v2.1M253.75 529.00v-2.1M253.75 324.50v2.1M266.25 529.00v-3.5M266.25 324.50v3.5M278.75 529.00v-2.1M278.75 324.50v2.1M291.25 529.00v-2.1M291.25 324.50v2.1M303.75 529.00v-2.1M303.75 324.50v2.1M316.25 529.00v-2.1M316.25 324.50v2.1M328.75 529.00v-3.5M328.75 324.50v3.5M341.25 529.00v-2.1M341.25 324.50v2.1M353.75 529.00v-2.1M353.75 324.50v2.1M366.25 529.00v-2.1M366.25 324.50v2.1M378.75 529.00v-2.1M378.75 324.50v2.1M391.25 529.00v-3.5M391.25 324.50v3.5M72.50 520.82h2.1M397.50 520.82h-2.1M72.50 512.64h2.1M397.50 512.64h-2.1M72.50 504.46h2.1M397.50 504.46h-2.1M72.50 496.28h2.1M397.50 496.28h-2.1M72.50 488.10h3.5M397.50 488.10h-3.5M72.50 479.92h2.1M397.50 479.92h-2.1M72.50 471.74h2.1M397.50 471.74h-2.1M72.50 463.56h2.1M397.50 463.56h-2.1M72.50 455.38h2.1M397.50 455.38h-2.1M72.50 447.20h3.5M397.50 447.20h-3.5M72.50 439.02h2.1M397.50 439.02h-2.1M72.50 430.84h2.1M397.50 430.84h-2.1M72.50 422.66h2.1M397.50 422.66h-2.1M72.50 414.48h2.1M397.50 414.48h-2.1M72.50 406.30h3.5M397.50 406.30h-3.5M72.50 398.12h2.1M397.50 398.12h-2.1M72.50 389.94h2.1M397.50 389.94h-2.1M72.50 381.76h2.1M397.50 381.76h-2.1M72.50 373.58h2.1M397.50 373.58h-2.1M72.50 365.40h3.5M397.50 365.40h-3.5M72.50 357.22h2.1M397.50 357.22h-2.1M72.50 349.04h2.1M397.50 349.04h-2.1M72.50 340.86h2.1M397.50 340.86h-2.1M72.50 332.68h2.1M397.50 332.68h-2.1" stroke="#7f7f7f" stroke-width="1" fill="none"/>
<rect x="72.5" y="324.5" width="325.0" height="204.5" fill="none" stroke="#7f7f7f" stroke-width="1"/>
<text transform="translate(79.05 548.70) scale(0.89 1)" text-anchor="middle" class="tk">0</text>
<text transform="translate(141.55 548.70) scale(0.89 1)" text-anchor="middle" class="tk">1</text>
<text transform="translate(204.05 548.70) scale(0.89 1)" text-anchor="middle" class="tk">2</text>
<text transform="translate(266.55 548.70) scale(0.89 1)" text-anchor="middle" class="tk">3</text>
<text transform="translate(329.05 548.70) scale(0.89 1)" text-anchor="middle" class="tk">4</text>
<text transform="translate(391.55 548.70) scale(0.89 1)" text-anchor="middle" class="tk">5</text>
<line x1="37.40" x2="47.60" y1="530.30" y2="530.30" stroke="#000" stroke-width="1"/>
<text transform="translate(69.50 535.70) scale(0.89 1)" text-anchor="end" class="tk">0.1</text>
<text transform="translate(69.50 494.80) scale(0.89 1)" text-anchor="end" class="tk">0.0</text>
<text transform="translate(69.50 453.90) scale(0.89 1)" text-anchor="end" class="tk">0.1</text>
<text transform="translate(69.50 413.00) scale(0.89 1)" text-anchor="end" class="tk">0.2</text>
<text transform="translate(69.50 372.10) scale(0.89 1)" text-anchor="end" class="tk">0.3</text>
<text transform="translate(68.80 331.20) scale(0.89 1)" text-anchor="end" class="tk">0.4</text>
<clipPath id="cpd"><rect x="464.0" y="324.0" width="328.0" height="206.0"/></clipPath>
<rect x="471.19" y="408.55" width="313.82" height="40.85" fill="#d9d9d9"/>
<line x1="470.49" x2="785.01" y1="449.40" y2="449.40" stroke="#454545" stroke-width="1" stroke-dasharray="5.6 3.4"/>
<line x1="470.49" x2="785.01" y1="408.55" y2="408.55" stroke="#454545" stroke-width="1" stroke-dasharray="5.6 3.4"/>
<line x1="470.29" x2="786.01" y1="429.00" y2="429.00" stroke="#000" stroke-width="2.5"/>
<g clip-path="url(#cpd)">
<path d="M470.3 434.7L471.5 434.7L472.8 434.7L474.0 434.7L475.2 434.7L476.4 434.7L477.7 434.7L478.9 434.7L480.1 434.7L481.4 434.7L482.6 434.7L483.8 434.7L485.1 434.7L486.3 434.7L487.5 434.7L488.8 434.7L490.0 434.7L491.3 434.8L492.5 434.8L493.7 434.8L495.0 434.8L496.2 434.8L497.5 434.8L498.7 434.8L499.9 434.9L501.2 434.9L502.4 434.9L503.7 434.9L504.9 435.0L506.2 435.0L507.4 435.0L508.7 435.0L509.9 435.1L511.2 435.1L512.4 435.1L513.7 435.1L514.9 435.2L516.2 435.2L517.4 435.2L518.7 435.3L519.9 435.3L521.2 435.3L522.4 435.4L523.7 435.4L524.9 435.5L526.2 435.5L527.4 435.5L528.7 435.6L529.9 435.6L531.2 435.7L532.4 435.7L533.7 435.7L534.9 435.8L536.2 435.8L537.4 435.9L538.7 435.9L539.9 436.0L541.2 436.0L542.4 436.0L543.7 436.1L545.0 436.1L546.2 436.2L547.5 436.2L548.7 436.2L550.0 436.3L551.2 436.3L552.5 436.3L553.7 436.4L555.0 436.4L556.2 436.4L557.5 436.4L558.7 436.4L560.0 436.4L561.2 436.4L562.5 436.4L563.7 436.4L565.0 436.4L566.2 436.4L567.4 436.4L568.7 436.4L569.9 436.3L571.2 436.3L572.4 436.3L573.7 436.2L574.9 436.2L576.2 436.1L577.4 436.1L578.6 436.0L579.9 435.9L581.1 435.8L582.4 435.7L583.6 435.6L584.8 435.5L586.1 435.4L587.3 435.3L588.5 435.2L589.8 435.0L591.0 434.9L592.2 434.7L593.5 434.6L594.7 434.4L595.9 434.2L597.2 434.0L598.4 433.8L599.6 433.6L600.8 433.4L602.0 433.1L603.3 432.9L604.5 432.6L605.7 432.4L606.9 432.1L608.1 431.8L609.3 431.5L610.5 431.2L611.7 430.9L612.9 430.6L614.1 430.2L615.3 429.9L616.4 429.5L617.6 429.1L618.8 428.7L620.0 428.3L621.1 427.9L622.3 427.5L623.5 427.0L624.6 426.6L625.8 426.1L626.9 425.6L628.0 425.1L629.2 424.6L630.3 424.1L631.4 423.6L632.6 423.0L633.7 422.5L634.8 421.9L635.9 421.3L637.0 420.7L638.1 420.1L639.2 419.5L640.2 418.9L641.3 418.3L642.4 417.6L643.5 417.0L644.5 416.3L645.6 415.6L646.6 415.0L647.6 414.3L648.7 413.6L649.7 412.9L650.7 412.1L651.7 411.4L652.7 410.7L653.7 409.9L654.7 409.1L655.7 408.4L656.6 407.6L657.6 406.8L658.6 406.0L659.5 405.2L660.5 404.4L661.4 403.6L662.3 402.7L663.2 401.9L664.1 401.1L665.0 400.2L665.9 399.3L666.8 398.5L667.7 397.6L668.6 396.7L669.4 395.8L670.3 394.9L671.2 394.0L672.0 393.1L672.8 392.2L673.7 391.3L674.5 390.3L675.3 389.4L676.1 388.5L676.9 387.5L677.7 386.5L678.5 385.6L679.3 384.6L680.1 383.6L680.9 382.7L681.6 381.7L682.4 380.7L683.2 379.7L683.9 378.7L684.7 377.7L685.4 376.7L686.1 375.7L686.9 374.7L687.6 373.6L688.3 372.6L689.0 371.6L689.7 370.5L690.4 369.5L691.1 368.5L691.8 367.4L692.5 366.4L693.1 365.3L693.8 364.3L694.5 363.2L695.1 362.1L695.8 361.1L696.4 360.0L697.1 359.0L697.7 357.9L698.4 356.8L699.0 355.7L699.6 354.7L700.3 353.6L700.9 352.5L701.5 351.4L702.1 350.3L702.7 349.2L703.3 348.2L703.9 347.1L704.6 346.0L705.2 344.9L705.8 343.8L706.4 342.7L706.9 341.6L707.5 340.5L708.1 339.4L708.7 338.3L709.3 337.2L709.9 336.2L710.5 335.1L711.1 334.0L711.6 332.9L712.2 331.8L712.8 330.7L713.4 329.6L714.0 328.5L714.6 327.4L715.1 326.3L715.7 325.3L716.3 324.2L716.9 323.1L717.5 322.0" fill="none" stroke="#ff0000" stroke-width="0.8" stroke-linejoin="round"/>
<path d="M470.2 434.6L471.5 434.6L472.7 434.6L473.9 434.6L475.2 434.6L476.4 434.6L477.7 434.7L478.9 434.7L480.2 434.7L481.4 434.7L482.7 434.7L483.9 434.7L485.2 434.8L486.4 434.8L487.7 434.8L488.9 434.8L490.2 434.8L491.4 434.8L492.7 434.9L493.9 434.9L495.1 434.9L496.4 434.9L497.6 434.9L498.9 435.0L500.1 435.0L501.4 435.0L502.6 435.0L503.9 435.1L505.1 435.1L506.4 435.1L507.6 435.1L508.9 435.2L510.1 435.2L511.4 435.2L512.6 435.2L513.9 435.3L515.1 435.3L516.3 435.3L517.6 435.4L518.8 435.4L520.1 435.4L521.3 435.4L522.6 435.5L523.8 435.5L525.1 435.5L526.3 435.6L527.6 435.6L528.8 435.6L530.1 435.7L531.3 435.7L532.6 435.7L533.8 435.8L535.0 435.8L536.3 435.8L537.5 435.9L538.8 435.9L540.0 435.9L541.3 436.0L542.5 436.0L543.8 436.0L545.0 436.0L546.3 436.1L547.5 436.1L548.8 436.1L550.0 436.1L551.3 436.2L552.5 436.2L553.8 436.2L555.0 436.2L556.2 436.2L557.5 436.3L558.7 436.3L560.0 436.3L561.2 436.3L562.5 436.3L563.7 436.3L565.0 436.3L566.2 436.3L567.5 436.3L568.7 436.3L570.0 436.3L571.2 436.3L572.5 436.2L573.7 436.2L575.0 436.2L576.2 436.2L577.4 436.1L578.7 436.1L579.9 436.1L581.2 436.0L582.4 436.0L583.7 435.9L584.9 435.8L586.2 435.8L587.4 435.7L588.7 435.6L589.9 435.6L591.2 435.5L592.4 435.4L593.7 435.3L594.9 435.2L596.2 435.1L597.4 435.0L598.6 434.9L599.9 434.8L601.1 434.6L602.4 434.5L603.6 434.3L604.8 434.2L606.1 434.0L607.3 433.8L608.6 433.7L609.8 433.5L611.0 433.3L612.2 433.1L613.5 432.9L614.7 432.6L615.9 432.4L617.1 432.1L618.3 431.9L619.6 431.6L620.8 431.3L622.0 431.0L623.2 430.7L624.4 430.4L625.6 430.0L626.8 429.7L628.0 429.3L629.2 428.9L630.3 428.5L631.5 428.1L632.7 427.7L633.9 427.3L635.1 426.8L636.2 426.4L637.4 425.9L638.5 425.5L639.7 425.0L640.8 424.5L642.0 424.0L643.1 423.5L644.3 422.9L645.4 422.4L646.5 421.8L647.6 421.3L648.7 420.7L649.9 420.1L651.0 419.5L652.1 418.9L653.2 418.3L654.2 417.7L655.3 417.1L656.4 416.5L657.5 415.8L658.5 415.2L659.6 414.5L660.6 413.8L661.7 413.2L662.7 412.5L663.8 411.8L664.8 411.1L665.8 410.4L666.8 409.6L667.8 408.9L668.8 408.2L669.8 407.4L670.8 406.7L671.8 405.9L672.8 405.2L673.8 404.4L674.7 403.6L675.7 402.8L676.6 402.0L677.6 401.2L678.5 400.4L679.5 399.6L680.4 398.8L681.3 397.9L682.2 397.1L683.1 396.3L684.0 395.4L684.9 394.5L685.8 393.7L686.7 392.8L687.6 391.9L688.5 391.0L689.3 390.1L690.2 389.2L691.0 388.3L691.9 387.4L692.7 386.5L693.5 385.6L694.4 384.6L695.2 383.7L696.0 382.8L696.8 381.8L697.6 380.9L698.4 379.9L699.2 378.9L700.0 378.0L700.8 377.0L701.5 376.0L702.3 375.0L703.1 374.0L703.8 373.0L704.5 372.0L705.3 371.0L706.0 370.0L706.7 369.0L707.5 367.9L708.2 366.9L708.9 365.9L709.6 364.8L710.3 363.8L710.9 362.7L711.6 361.7L712.3 360.6L713.0 359.6L713.6 358.5L714.3 357.4L715.0 356.4L715.6 355.3L716.2 354.2L716.9 353.1L717.5 352.1L718.2 351.0L718.8 349.9L719.4 348.8L720.1 347.7L720.7 346.6L721.3 345.6L721.9 344.5L722.6 343.4L723.2 342.3L723.8 341.2L724.4 340.1L725.0 339.0L725.7 338.0L726.3 336.9L726.9 335.8L727.5 334.7L728.2 333.7L728.8 332.6L729.4 331.5L730.0 330.5L730.7 329.4L731.3 328.3L731.9 327.3L732.6 326.2L733.2 325.2L733.9 324.2L734.5 323.1L735.2 322.1" fill="none" stroke="#ff0000" stroke-width="0.85" stroke-dasharray="5.0 4.0" stroke-linejoin="round"/>
<path d="M470.3 434.7L471.6 434.7L472.8 434.7L474.0 434.7L475.3 434.7L476.5 434.7L477.7 434.7L479.0 434.7L480.2 434.7L481.4 434.7L482.7 434.7L483.9 434.7L485.1 434.7L486.4 434.7L487.6 434.7L488.8 434.7L490.1 434.7L491.3 434.7L492.6 434.8L493.8 434.8L495.0 434.8L496.3 434.8L497.5 434.8L498.8 434.8L500.0 434.9L501.3 434.9L502.5 434.9L503.7 434.9L505.0 435.0L506.2 435.0L507.5 435.0L508.7 435.1L510.0 435.1L511.2 435.1L512.5 435.1L513.7 435.2L515.0 435.2L516.2 435.2L517.5 435.3L518.7 435.3L520.0 435.3L521.2 435.4L522.5 435.4L523.7 435.4L525.0 435.5L526.2 435.5L527.5 435.6L528.8 435.6L530.0 435.6L531.3 435.7L532.5 435.7L533.8 435.7L535.0 435.8L536.3 435.8L537.5 435.9L538.8 435.9L540.0 435.9L541.3 436.0L542.6 436.0L543.8 436.1L545.1 436.1L546.3 436.1L547.6 436.2L548.8 436.2L550.1 436.2L551.3 436.3L552.6 436.3L553.8 436.4L555.1 436.4L556.4 436.4L557.6 436.5L558.9 436.5L560.1 436.5L561.4 436.6L562.6 436.6L563.9 436.6L565.1 436.7L566.4 436.7L567.6 436.7L568.9 436.7L570.2 436.7L571.4 436.7L572.7 436.8L573.9 436.8L575.2 436.8L576.4 436.8L577.7 436.8L578.9 436.8L580.2 436.8L581.4 436.7L582.7 436.7L583.9 436.7L585.2 436.7L586.4 436.7L587.7 436.6L588.9 436.6L590.2 436.5L591.4 436.5L592.6 436.4L593.9 436.4L595.1 436.3L596.4 436.2L597.6 436.2L598.9 436.1L600.1 436.0L601.4 435.9L602.6 435.8L603.8 435.7L605.1 435.6L606.3 435.5L607.6 435.3L608.8 435.2L610.0 435.0L611.3 434.9L612.5 434.7L613.7 434.6L615.0 434.4L616.2 434.2L617.4 434.0L618.7 433.8L619.9 433.6L621.1 433.4L622.3 433.2L623.6 433.0L624.8 432.7L626.0 432.5L627.2 432.2L628.4 432.0L629.6 431.7L630.8 431.4L632.1 431.1L633.3 430.8L634.5 430.5L635.7 430.2L636.9 429.9L638.1 429.5L639.3 429.2L640.4 428.8L641.6 428.5L642.8 428.1L644.0 427.7L645.2 427.3L646.3 426.9L647.5 426.5L648.7 426.1L649.9 425.6L651.0 425.2L652.2 424.7L653.3 424.2L654.5 423.8L655.6 423.3L656.8 422.8L657.9 422.3L659.0 421.8L660.2 421.2L661.3 420.7L662.4 420.2L663.5 419.6L664.6 419.1L665.7 418.5L666.9 417.9L668.0 417.3L669.0 416.7L670.1 416.1L671.2 415.5L672.3 414.9L673.4 414.2L674.4 413.6L675.5 413.0L676.6 412.3L677.6 411.6L678.7 411.0L679.7 410.3L680.7 409.6L681.8 408.9L682.8 408.2L683.8 407.4L684.8 406.7L685.9 406.0L686.9 405.2L687.9 404.5L688.8 403.7L689.8 403.0L690.8 402.2L691.8 401.4L692.8 400.6L693.7 399.8L694.7 399.0L695.6 398.2L696.6 397.4L697.5 396.6L698.5 395.8L699.4 394.9L700.3 394.1L701.2 393.2L702.1 392.4L703.0 391.5L704.0 390.7L704.8 389.8L705.7 388.9L706.6 388.0L707.5 387.1L708.4 386.2L709.3 385.3L710.1 384.4L711.0 383.5L711.8 382.6L712.7 381.7L713.5 380.8L714.4 379.8L715.2 378.9L716.0 377.9L716.8 377.0L717.7 376.1L718.5 375.1L719.3 374.1L720.1 373.2L720.9 372.2L721.7 371.2L722.4 370.3L723.2 369.3L724.0 368.3L724.8 367.3L725.5 366.3L726.3 365.3L727.0 364.3L727.8 363.3L728.5 362.3L729.3 361.3L730.0 360.3L730.7 359.3L731.4 358.3L732.2 357.3L732.9 356.2L733.6 355.2L734.3 354.2L735.0 353.1L735.7 352.1L736.4 351.1L737.0 350.0L737.7 349.0L738.4 347.9L739.1 346.9L739.7 345.8L740.4 344.8L741.0 343.7L741.7 342.7L742.3 341.6L743.0 340.5L743.6 339.5L744.3 338.4L744.9 337.3L745.5 336.2L746.1 335.2L746.7 334.1L747.4 333.0L748.0 331.9L748.6 330.8L749.2 329.7L749.8 328.7L750.4 327.6L750.9 326.5L751.5 325.4L752.1 324.3L752.7 323.2L753.2 322.1" fill="none" stroke="#ff0000" stroke-width="1.4" stroke-dasharray="0.01 5.55" stroke-linecap="round" stroke-linejoin="round"/>
<path d="M470.4 434.8L471.6 434.8L472.8 434.7L474.0 434.7L475.3 434.7L476.5 434.7L477.8 434.6L479.0 434.6L480.2 434.6L481.5 434.6L482.7 434.6L483.9 434.6L485.2 434.6L486.4 434.6L487.6 434.6L488.9 434.6L490.1 434.6L491.4 434.6L492.6 434.6L493.8 434.6L495.1 434.6L496.3 434.6L497.6 434.7L498.8 434.7L500.0 434.7L501.3 434.7L502.5 434.8L503.8 434.8L505.0 434.8L506.2 434.8L507.5 434.9L508.7 434.9L510.0 435.0L511.2 435.0L512.5 435.0L513.7 435.1L515.0 435.1L516.2 435.1L517.4 435.2L518.7 435.2L519.9 435.3L521.2 435.3L522.4 435.4L523.7 435.4L524.9 435.5L526.2 435.5L527.4 435.6L528.7 435.6L529.9 435.7L531.2 435.7L532.4 435.8L533.7 435.8L534.9 435.8L536.2 435.9L537.4 435.9L538.7 436.0L539.9 436.0L541.1 436.1L542.4 436.1L543.6 436.2L544.9 436.2L546.1 436.3L547.4 436.3L548.6 436.4L549.9 436.4L551.1 436.5L552.4 436.5L553.6 436.5L554.9 436.6L556.2 436.6L557.4 436.7L558.7 436.7L559.9 436.7L561.2 436.8L562.4 436.8L563.7 436.8L564.9 436.9L566.2 436.9L567.4 436.9L568.7 436.9L569.9 437.0L571.2 437.0L572.4 437.0L573.7 437.0L574.9 437.0L576.2 437.1L577.4 437.1L578.7 437.1L579.9 437.1L581.2 437.1L582.4 437.1L583.7 437.1L584.9 437.1L586.2 437.1L587.4 437.1L588.7 437.1L589.9 437.0L591.2 437.0L592.4 437.0L593.7 437.0L595.0 437.0L596.2 436.9L597.5 436.9L598.7 436.9L600.0 436.8L601.2 436.8L602.5 436.7L603.7 436.7L605.0 436.6L606.2 436.6L607.5 436.5L608.7 436.4L610.0 436.4L611.2 436.3L612.5 436.2L613.7 436.1L615.0 436.0L616.2 436.0L617.5 435.9L618.7 435.8L620.0 435.7L621.2 435.5L622.4 435.4L623.7 435.3L624.9 435.2L626.2 435.1L627.4 434.9L628.7 434.8L629.9 434.6L631.1 434.5L632.4 434.3L633.6 434.2L634.9 434.0L636.1 433.8L637.3 433.7L638.6 433.5L639.8 433.3L641.0 433.1L642.2 432.9L643.5 432.7L644.7 432.5L645.9 432.3L647.1 432.0L648.4 431.8L649.6 431.6L650.8 431.3L652.0 431.1L653.2 430.8L654.4 430.5L655.6 430.3L656.8 430.0L658.1 429.7L659.3 429.4L660.5 429.1L661.7 428.8L662.9 428.5L664.0 428.2L665.2 427.8L666.4 427.5L667.6 427.1L668.8 426.8L670.0 426.4L671.2 426.1L672.3 425.7L673.5 425.3L674.7 424.9L675.9 424.5L677.0 424.1L678.2 423.7L679.4 423.2L680.5 422.8L681.7 422.4L682.8 421.9L684.0 421.4L685.1 421.0L686.3 420.5L687.4 420.0L688.5 419.5L689.7 419.0L690.8 418.5L691.9 418.0L693.0 417.4L694.2 416.9L695.3 416.4L696.4 415.8L697.5 415.2L698.6 414.7L699.7 414.1L700.8 413.5L701.9 412.9L703.0 412.3L704.1 411.7L705.2 411.1L706.3 410.5L707.3 409.8L708.4 409.2L709.5 408.6L710.5 407.9L711.6 407.3L712.7 406.6L713.7 405.9L714.8 405.2L715.8 404.6L716.9 403.9L717.9 403.2L718.9 402.5L719.9 401.7L721.0 401.0L722.0 400.3L723.0 399.6L724.0 398.8L725.0 398.1L726.0 397.3L727.0 396.6L728.0 395.8L729.0 395.0L730.0 394.2L731.0 393.5L731.9 392.7L732.9 391.9L733.9 391.1L734.8 390.3L735.8 389.5L736.7 388.6L737.7 387.8L738.6 387.0L739.6 386.2L740.5 385.3L741.4 384.5L742.3 383.6L743.3 382.8L744.2 381.9L745.1 381.0L746.0 380.2L746.9 379.3L747.8 378.4L748.7 377.5L749.5 376.6L750.4 375.8L751.3 374.9L752.2 374.0L753.0 373.0L753.9 372.1L754.7 371.2L755.6 370.3L756.4 369.4L757.3 368.4L758.1 367.5L758.9 366.6L759.7 365.6L760.6 364.7L761.4 363.7L762.2 362.8L763.0 361.8L763.8 360.8L764.6 359.9L765.4 358.9L766.1 357.9L766.9 357.0L767.7 356.0L768.5 355.0L769.2 354.0L770.0 353.0L770.7 352.0L771.5 351.0L772.2 350.0L772.9 349.0L773.7 348.0L774.4 347.0L775.1 346.0L775.8 345.0L776.5 344.0L777.2 343.0L777.9 341.9L778.6 340.9L779.3 339.9L780.0 338.9L780.7 337.8L781.3 336.8L782.0 335.7L782.7 334.7L783.3 333.7L784.0 332.6L784.6 331.6L785.3 330.5" fill="none" stroke="#ff0000" stroke-width="2.45" stroke-dasharray="6.5 2.3" stroke-linejoin="round"/>
<path d="M470.4 434.7L471.7 434.7L472.9 434.7L474.1 434.7L475.3 434.7L476.6 434.6L477.8 434.6L479.0 434.6L480.2 434.6L481.5 434.6L482.7 434.6L483.9 434.6L485.2 434.6L486.4 434.6L487.6 434.6L488.9 434.6L490.1 434.6L491.3 434.7L492.6 434.7L493.8 434.7L495.0 434.7L496.3 434.7L497.5 434.7L498.7 434.8L500.0 434.8L501.2 434.8L502.4 434.8L503.7 434.9L504.9 434.9L506.2 434.9L507.4 435.0L508.6 435.0L509.9 435.0L511.1 435.1L512.4 435.1L513.6 435.1L514.8 435.2L516.1 435.2L517.3 435.3L518.6 435.3L519.8 435.3L521.1 435.4L522.3 435.4L523.5 435.5L524.8 435.5L526.0 435.6L527.3 435.6L528.5 435.7L529.8 435.7L531.0 435.8L532.3 435.8L533.5 435.9L534.8 435.9L536.0 436.0L537.3 436.0L538.5 436.1L539.8 436.1L541.0 436.1L542.3 436.2L543.5 436.2L544.7 436.3L546.0 436.3L547.2 436.4L548.5 436.4L549.7 436.5L551.0 436.5L552.2 436.6L553.5 436.6L554.7 436.7L556.0 436.7L557.2 436.8L558.5 436.8L559.8 436.8L561.0 436.9L562.3 436.9L563.5 437.0L564.8 437.0L566.0 437.0L567.3 437.1L568.5 437.1L569.8 437.1L571.0 437.2L572.3 437.2L573.5 437.2L574.8 437.3L576.0 437.3L577.3 437.3L578.5 437.3L579.8 437.4L581.0 437.4L582.3 437.4L583.5 437.4L584.8 437.4L586.0 437.4L587.3 437.4L588.5 437.5L589.8 437.5L591.0 437.5L592.3 437.5L593.5 437.5L594.8 437.5L596.0 437.5L597.3 437.5L598.5 437.5L599.8 437.4L601.0 437.4L602.3 437.4L603.5 437.4L604.8 437.4L606.0 437.4L607.3 437.3L608.5 437.3L609.8 437.3L611.0 437.2L612.3 437.2L613.5 437.2L614.8 437.1L616.0 437.1L617.2 437.0L618.5 437.0L619.7 436.9L621.0 436.8L622.2 436.8L623.5 436.7L624.7 436.6L626.0 436.6L627.2 436.5L628.4 436.4L629.7 436.3L630.9 436.2L632.2 436.2L633.4 436.1L634.7 436.0L635.9 435.9L637.1 435.8L638.4 435.6L639.6 435.5L640.9 435.4L642.1 435.3L643.3 435.2L644.6 435.0L645.8 434.9L647.0 434.8L648.3 434.6L649.5 434.5L650.7 434.3L652.0 434.2L653.2 434.0L654.4 433.8L655.7 433.7L656.9 433.5L658.1 433.3L659.4 433.1L660.6 432.9L661.8 432.7L663.1 432.5L664.3 432.3L665.5 432.1L666.7 431.9L668.0 431.7L669.2 431.5L670.4 431.2L671.6 431.0L672.9 430.8L674.1 430.5L675.3 430.3L676.5 430.0L677.7 429.8L678.9 429.5L680.2 429.3L681.4 429.0L682.6 428.8L683.8 428.5L685.0 428.2L686.2 427.9L687.4 427.6L688.6 427.4L689.8 427.1L691.0 426.8L692.2 426.5L693.4 426.2L694.6 425.9L695.8 425.6L697.0 425.2L698.2 424.9L699.4 424.6L700.6 424.3L701.7 423.9L702.9 423.6L704.1 423.2L705.3 422.9L706.5 422.5L707.6 422.1L708.8 421.8L710.0 421.4L711.1 421.0L712.3 420.6L713.5 420.2L714.6 419.7L715.8 419.3L716.9 418.9L718.1 418.4L719.2 418.0L720.4 417.5L721.5 417.0L722.7 416.5L723.8 416.0L724.9 415.5L726.1 415.0L727.2 414.5L728.3 414.0L729.5 413.4L730.6 412.8L731.7 412.3L732.8 411.7L733.9 411.1L735.0 410.5L736.1 409.9L737.2 409.3L738.3 408.7L739.4 408.1L740.5 407.4L741.6 406.8L742.7 406.2L743.8 405.5L744.8 404.9L745.9 404.2L747.0 403.5L748.1 402.8L749.1 402.2L750.2 401.5L751.2 400.8L752.3 400.1L753.3 399.4L754.4 398.7L755.4 398.0L756.5 397.3L757.5 396.6L758.5 395.9L759.5 395.1L760.6 394.4L761.6 393.7L762.6 393.0L763.6 392.3L764.6 391.5L765.6 390.8L766.6 390.1L767.6 389.3L768.6 388.6L769.6 387.8L770.5 387.1L771.5 386.3L772.5 385.5L773.4 384.8L774.4 384.0L775.3 383.2L776.3 382.4L777.2 381.6L778.2 380.8L779.1 380.0L780.0 379.1L781.0 378.3L781.9 377.4L782.8 376.6L783.7 375.7L784.6 374.8L785.5 373.9" fill="none" stroke="#ff0000" stroke-width="2.45" stroke-linejoin="round"/>
</g>
<path d="M470.79 529.50v-3.5M470.79 324.50v3.5M483.37 529.50v-2.1M483.37 324.50v2.1M495.94 529.50v-2.1M495.94 324.50v2.1M508.52 529.50v-2.1M508.52 324.50v2.1M521.10 529.50v-2.1M521.10 324.50v2.1M533.67 529.50v-3.5M533.67 324.50v3.5M546.25 529.50v-2.1M546.25 324.50v2.1M558.83 529.50v-2.1M558.83 324.50v2.1M571.40 529.50v-2.1M571.40 324.50v2.1M583.98 529.50v-2.1M583.98 324.50v2.1M596.56 529.50v-3.5M596.56 324.50v3.5M609.13 529.50v-2.1M609.13 324.50v2.1M621.71 529.50v-2.1M621.71 324.50v2.1M634.29 529.50v-2.1M634.29 324.50v2.1M646.87 529.50v-2.1M646.87 324.50v2.1M659.44 529.50v-3.5M659.44 324.50v3.5M672.02 529.50v-2.1M672.02 324.50v2.1M684.60 529.50v-2.1M684.60 324.50v2.1M697.17 529.50v-2.1M697.17 324.50v2.1M709.75 529.50v-2.1M709.75 324.50v2.1M722.33 529.50v-3.5M722.33 324.50v3.5M734.90 529.50v-2.1M734.90 324.50v2.1M747.48 529.50v-2.1M747.48 324.50v2.1M760.06 529.50v-2.1M760.06 324.50v2.1M772.63 529.50v-2.1M772.63 324.50v2.1M785.21 529.50v-3.5M785.21 324.50v3.5M464.50 519.25h2.1M791.50 519.25h-2.1M464.50 509.00h2.1M791.50 509.00h-2.1M464.50 498.75h2.1M791.50 498.75h-2.1M464.50 488.50h3.5M791.50 488.50h-3.5M464.50 478.25h2.1M791.50 478.25h-2.1M464.50 468.00h2.1M791.50 468.00h-2.1M464.50 457.75h2.1M791.50 457.75h-2.1M464.50 447.50h3.5M791.50 447.50h-3.5M464.50 437.25h2.1M791.50 437.25h-2.1M464.50 427.00h2.1M791.50 427.00h-2.1M464.50 416.75h2.1M791.50 416.75h-2.1M464.50 406.50h3.5M791.50 406.50h-3.5M464.50 396.25h2.1M791.50 396.25h-2.1M464.50 386.00h2.1M791.50 386.00h-2.1M464.50 375.75h2.1M791.50 375.75h-2.1M464.50 365.50h3.5M791.50 365.50h-3.5M464.50 355.25h2.1M791.50 355.25h-2.1M464.50 345.00h2.1M791.50 345.00h-2.1M464.50 334.75h2.1M791.50 334.75h-2.1" stroke="#7f7f7f" stroke-width="1" fill="none"/>
<rect x="464.5" y="324.5" width="327.0" height="205.0" fill="none" stroke="#7f7f7f" stroke-width="1"/>
<text transform="translate(471.09 549.20) scale(0.89 1)" text-anchor="middle" class="tk">0</text>
<text transform="translate(533.97 549.20) scale(0.89 1)" text-anchor="middle" class="tk">1</text>
<text transform="translate(596.86 549.20) scale(0.89 1)" text-anchor="middle" class="tk">2</text>
<text transform="translate(659.74 549.20) scale(0.89 1)" text-anchor="middle" class="tk">3</text>
<text transform="translate(722.63 549.20) scale(0.89 1)" text-anchor="middle" class="tk">4</text>
<text transform="translate(785.51 549.20) scale(0.89 1)" text-anchor="middle" class="tk">5</text>
<text transform="translate(461.50 536.20) scale(0.89 1)" text-anchor="end" class="tk">2</text>
<text transform="translate(461.50 495.20) scale(0.89 1)" text-anchor="end" class="tk">4</text>
<text transform="translate(461.50 454.20) scale(0.89 1)" text-anchor="end" class="tk">6</text>
<text transform="translate(461.50 413.20) scale(0.89 1)" text-anchor="end" class="tk">8</text>
<text transform="translate(461.50 372.20) scale(0.89 1)" text-anchor="end" class="tk">10</text>
<text transform="translate(461.50 331.20) scale(0.89 1)" text-anchor="end" class="tk">12</text>
<text transform="matrix(0.09457 0 0 0.09149 198.44 275.10)" font-size="200" font-style="italic">m</text>
<text transform="matrix(0.06322 0 0 0.05390 215.16 281.99)" font-size="200" font-style="italic">b</text>
<path d="M217.10 270.75q0.85 -1.43 1.70 -0.55t1.70 -0.55" fill="none" stroke="#000" stroke-width="0.9"/>
<text transform="matrix(0.08627 0 0 0.08516 224.92 274.54)" font-size="200">(</text>
<text transform="matrix(0.09074 0 0 0.09333 230.17 275.42)" font-size="200">GeV</text>
<text transform="matrix(0.08462 0 0 0.08516 262.89 274.54)" font-size="200">)</text>
<text transform="matrix(0.09225 0 0 0.08830 592.95 274.20)" font-size="200" font-style="italic">m</text>
<text transform="matrix(0.06437 0 0 0.05177 608.95 281.10)" font-size="200" font-style="italic">b</text>
<path d="M611.20 269.95q0.85 -1.43 1.70 -0.55t1.70 -0.55" fill="none" stroke="#000" stroke-width="0.9"/>
<text transform="matrix(0.08627 0 0 0.08516 619.22 273.74)" font-size="200">(</text>
<text transform="matrix(0.09074 0 0 0.09333 624.47 274.62)" font-size="200">GeV</text>
<text transform="matrix(0.08462 0 0 0.08516 657.19 273.74)" font-size="200">)</text>
<g transform="translate(0 0)" fill="none" stroke="#000" stroke-linecap="round"><path d="M234.1 563.6C233.8 562.3 232.1 562.0 231.1 564.1C230.3 565.8 229.4 569.5 228.7 573C228.2 575.3 227.8 576.4 227.3 577.2C226.6 578.5 225.3 578.9 224.7 577.8" stroke-width="1.15"/><path d="M227.4 567.5H232.7" stroke-width="0.8"/><circle cx="234.0" cy="563.7" r="0.45" stroke-width="0.7"/><circle cx="224.8" cy="577.6" r="0.45" stroke-width="0.7"/></g>
<text transform="matrix(0.07211 0 0 0.06028 231.50 578.58)" font-size="200">dt</text>
<g transform="translate(392.8 0.6)" fill="none" stroke="#000" stroke-linecap="round"><path d="M234.1 563.6C233.8 562.3 232.1 562.0 231.1 564.1C230.3 565.8 229.4 569.5 228.7 573C228.2 575.3 227.8 576.4 227.3 577.2C226.6 578.5 225.3 578.9 224.7 577.8" stroke-width="1.15"/><path d="M227.4 567.5H232.7" stroke-width="0.8"/><circle cx="234.0" cy="563.7" r="0.45" stroke-width="0.7"/><circle cx="224.8" cy="577.6" r="0.45" stroke-width="0.7"/></g>
<text transform="matrix(0.07211 0 0 0.06028 624.30 579.18)" font-size="200">dt</text>
<text transform="matrix(0.07687 0 0 0.08788 0.15 134.90)" font-size="200" font-style="italic">A</text>
<text transform="matrix(0.06550 0 0 0.05682 10.41 137.54)" font-size="200">FB</text>
<text transform="matrix(0.07687 0 0 0.09015 2.15 433.00)" font-size="200" font-style="italic">A</text>
<text transform="matrix(0.06507 0 0 0.05909 12.11 436.14)" font-size="200">FB</text>
<g transform="translate(430.10 156.80) rotate(-90)">
<text transform="matrix(0.11515 0 0 0.08190 -0.69 -0.16)" font-size="200" font-style="italic">σ</text>
<text transform="matrix(0.06667 0 0 0.06261 10.70 5.07)" font-size="200" font-style="italic">t</text>
<text transform="matrix(0.06667 0 0 0.06261 18.20 5.07)" font-size="200" font-style="italic">t</text>
<line x1="18.8" x2="26.0" y1="-5.5" y2="-5.5" stroke="#000" stroke-width="0.9"/>
<text transform="matrix(0.09412 0 0 0.08489 28.85 -0.45)" font-size="200">(</text>
<text transform="matrix(0.10212 0 0 0.08874 33.49 0.08)" font-size="200">pb</text>
<text transform="matrix(0.09231 0 0 0.08379 54.65 -0.60)" font-size="200">)</text>
</g>
<g transform="translate(430.10 456.60) rotate(-90)">
<text transform="matrix(0.11515 0 0 0.08190 -0.69 -0.16)" font-size="200" font-style="italic">σ</text>
<text transform="matrix(0.06667 0 0 0.06261 10.70 5.07)" font-size="200" font-style="italic">t</text>
<text transform="matrix(0.06667 0 0 0.06261 18.20 5.07)" font-size="200" font-style="italic">t</text>
<line x1="18.8" x2="26.0" y1="-5.5" y2="-5.5" stroke="#000" stroke-width="0.9"/>
<text transform="matrix(0.09412 0 0 0.08489 28.85 -0.45)" font-size="200">(</text>
<text transform="matrix(0.10212 0 0 0.08874 33.49 0.08)" font-size="200">pb</text>
<text transform="matrix(0.09231 0 0 0.08379 54.65 -0.60)" font-size="200">)</text>
</g>
<text transform="matrix(0.11961 0 0 0.10440 79.22 56.51)" font-size="200">(</text>
<text transform="matrix(0.11266 0 0 0.11563 86.81 56.87)" font-size="200">a</text>
<text transform="matrix(0.11731 0 0 0.10440 96.40 56.51)" font-size="200">)</text>
<text transform="matrix(0.11961 0 0 0.10440 753.02 56.31)" font-size="200">(</text>
<text transform="matrix(0.11304 0 0 0.11135 761.40 57.28)" font-size="200">b</text>
<text transform="matrix(0.11923 0 0 0.10440 771.98 56.31)" font-size="200">)</text>
<text transform="matrix(0.12157 0 0 0.10604 83.11 354.24)" font-size="200">(</text>
<text transform="matrix(0.11467 0 0 0.11458 90.68 354.87)" font-size="200">c</text>
<text transform="matrix(0.11731 0 0 0.10604 100.40 354.24)" font-size="200">)</text>
<text transform="matrix(0.12157 0 0 0.10769 475.81 354.17)" font-size="200">(</text>
<text transform="matrix(0.11429 0 0 0.11418 483.20 355.07)" font-size="200">d</text>
<text transform="matrix(0.11731 0 0 0.10769 494.30 354.17)" font-size="200">)</text>
</svg></body></html>
